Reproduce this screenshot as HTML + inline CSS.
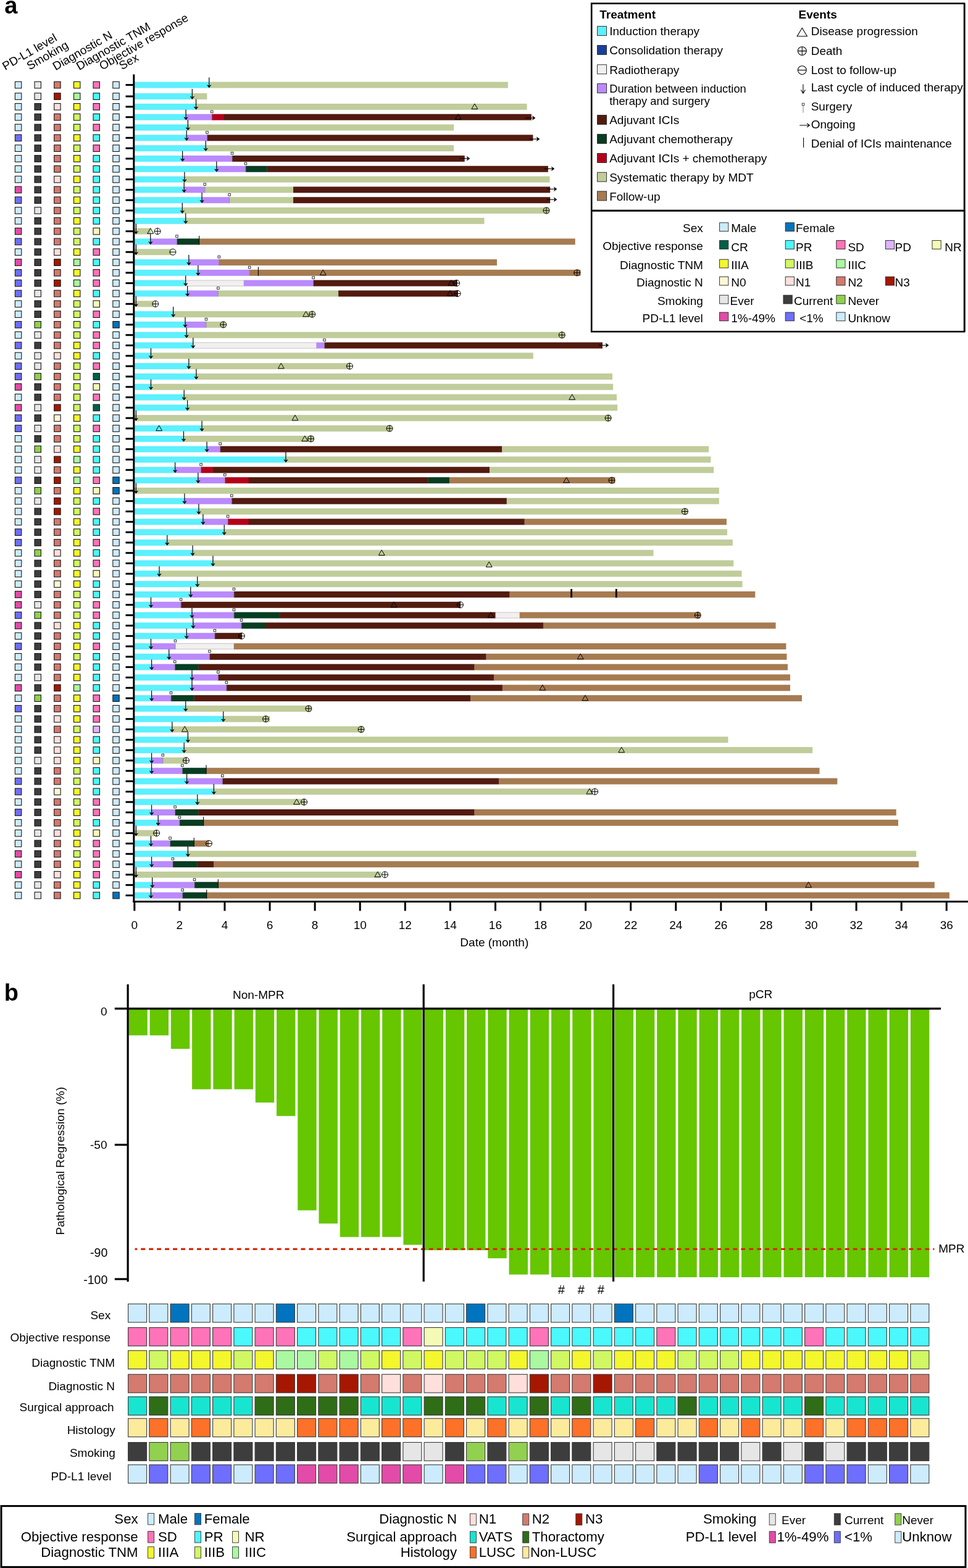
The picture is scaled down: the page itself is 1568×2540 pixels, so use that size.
<!DOCTYPE html>
<html><head><meta charset="utf-8"><title>Figure</title>
<style>
html,body{margin:0;padding:0;background:#fff;}
body{width:1568px;height:2540px;overflow:hidden;}
svg{display:block;}
text{fill:#000;}
</style></head>
<body>
<svg width="1568" height="2540" viewBox="0 0 1568 2540">
<rect width="1568" height="2540" fill="#fff"/>
<text x="7.3" y="21.8" font-size="38" font-weight="bold" font-family="'Liberation Sans', Arial, Helvetica, sans-serif">a</text>
<text transform="translate(8.5,114.2) rotate(-30)" font-size="19" font-family="'Liberation Sans', Arial, Helvetica, sans-serif">PD-L1 level</text>
<text transform="translate(48.1,113.7) rotate(-30)" font-size="19" font-family="'Liberation Sans', Arial, Helvetica, sans-serif">Smoking</text>
<text transform="translate(90.0,114.6) rotate(-30)" font-size="19" font-family="'Liberation Sans', Arial, Helvetica, sans-serif">Diagnostic N</text>
<text transform="translate(128.3,114.3) rotate(-30)" font-size="19" font-family="'Liberation Sans', Arial, Helvetica, sans-serif">Diagnostic TNM</text>
<text transform="translate(165.5,113.9) rotate(-30)" font-size="19" font-family="'Liberation Sans', Arial, Helvetica, sans-serif">Objective response</text>
<text transform="translate(197.5,113.4) rotate(-30)" font-size="19" font-family="'Liberation Sans', Arial, Helvetica, sans-serif">Sex</text>
<g stroke="#161616" stroke-width="1.1">
<rect x="24.4" y="132.3" width="10.4" height="10.6" fill="#CCEBFC"/>
<rect x="56" y="132.3" width="10.4" height="10.6" fill="#E6E6E6"/>
<rect x="87.7" y="132.3" width="10.4" height="10.6" fill="#D47A6E"/>
<rect x="119.5" y="132.3" width="10.4" height="10.6" fill="#F3F72B"/>
<rect x="151" y="132.3" width="10.4" height="10.6" fill="#FF73B9"/>
<rect x="182.8" y="132.3" width="10.4" height="10.6" fill="#CCEBFC"/>
<rect x="24.4" y="150.8" width="10.4" height="10.6" fill="#CCEBFC"/>
<rect x="56" y="150.8" width="10.4" height="10.6" fill="#E6E6E6"/>
<rect x="87.7" y="150.8" width="10.4" height="10.6" fill="#A51700"/>
<rect x="119.5" y="150.8" width="10.4" height="10.6" fill="#AAF9A0"/>
<rect x="151" y="150.8" width="10.4" height="10.6" fill="#4BF8FB"/>
<rect x="182.8" y="150.8" width="10.4" height="10.6" fill="#CCEBFC"/>
<rect x="24.4" y="167.61" width="10.4" height="10.6" fill="#CCEBFC"/>
<rect x="56" y="167.61" width="10.4" height="10.6" fill="#3D3D3D"/>
<rect x="87.7" y="167.61" width="10.4" height="10.6" fill="#FFDFDB"/>
<rect x="119.5" y="167.61" width="10.4" height="10.6" fill="#F3F72B"/>
<rect x="151" y="167.61" width="10.4" height="10.6" fill="#FF73B9"/>
<rect x="182.8" y="167.61" width="10.4" height="10.6" fill="#CCEBFC"/>
<rect x="24.4" y="184.42" width="10.4" height="10.6" fill="#CCEBFC"/>
<rect x="56" y="184.42" width="10.4" height="10.6" fill="#3D3D3D"/>
<rect x="87.7" y="184.42" width="10.4" height="10.6" fill="#D47A6E"/>
<rect x="119.5" y="184.42" width="10.4" height="10.6" fill="#D0F862"/>
<rect x="151" y="184.42" width="10.4" height="10.6" fill="#4BF8FB"/>
<rect x="182.8" y="184.42" width="10.4" height="10.6" fill="#CCEBFC"/>
<rect x="24.4" y="201.23" width="10.4" height="10.6" fill="#CCEBFC"/>
<rect x="56" y="201.23" width="10.4" height="10.6" fill="#3D3D3D"/>
<rect x="87.7" y="201.23" width="10.4" height="10.6" fill="#D47A6E"/>
<rect x="119.5" y="201.23" width="10.4" height="10.6" fill="#D0F862"/>
<rect x="151" y="201.23" width="10.4" height="10.6" fill="#FF73B9"/>
<rect x="182.8" y="201.23" width="10.4" height="10.6" fill="#CCEBFC"/>
<rect x="24.4" y="218.04" width="10.4" height="10.6" fill="#6E6EFF"/>
<rect x="56" y="218.04" width="10.4" height="10.6" fill="#3D3D3D"/>
<rect x="87.7" y="218.04" width="10.4" height="10.6" fill="#D47A6E"/>
<rect x="119.5" y="218.04" width="10.4" height="10.6" fill="#F3F72B"/>
<rect x="151" y="218.04" width="10.4" height="10.6" fill="#4BF8FB"/>
<rect x="182.8" y="218.04" width="10.4" height="10.6" fill="#CCEBFC"/>
<rect x="24.4" y="234.85" width="10.4" height="10.6" fill="#CCEBFC"/>
<rect x="56" y="234.85" width="10.4" height="10.6" fill="#3D3D3D"/>
<rect x="87.7" y="234.85" width="10.4" height="10.6" fill="#D47A6E"/>
<rect x="119.5" y="234.85" width="10.4" height="10.6" fill="#D0F862"/>
<rect x="151" y="234.85" width="10.4" height="10.6" fill="#FF73B9"/>
<rect x="182.8" y="234.85" width="10.4" height="10.6" fill="#CCEBFC"/>
<rect x="24.4" y="251.66" width="10.4" height="10.6" fill="#CCEBFC"/>
<rect x="56" y="251.66" width="10.4" height="10.6" fill="#3D3D3D"/>
<rect x="87.7" y="251.66" width="10.4" height="10.6" fill="#D47A6E"/>
<rect x="119.5" y="251.66" width="10.4" height="10.6" fill="#F3F72B"/>
<rect x="151" y="251.66" width="10.4" height="10.6" fill="#4BF8FB"/>
<rect x="182.8" y="251.66" width="10.4" height="10.6" fill="#CCEBFC"/>
<rect x="24.4" y="268.47" width="10.4" height="10.6" fill="#CCEBFC"/>
<rect x="56" y="268.47" width="10.4" height="10.6" fill="#3D3D3D"/>
<rect x="87.7" y="268.47" width="10.4" height="10.6" fill="#D47A6E"/>
<rect x="119.5" y="268.47" width="10.4" height="10.6" fill="#D0F862"/>
<rect x="151" y="268.47" width="10.4" height="10.6" fill="#4BF8FB"/>
<rect x="182.8" y="268.47" width="10.4" height="10.6" fill="#CCEBFC"/>
<rect x="24.4" y="285.28" width="10.4" height="10.6" fill="#CCEBFC"/>
<rect x="56" y="285.28" width="10.4" height="10.6" fill="#3D3D3D"/>
<rect x="87.7" y="285.28" width="10.4" height="10.6" fill="#FFDFDB"/>
<rect x="119.5" y="285.28" width="10.4" height="10.6" fill="#F3F72B"/>
<rect x="151" y="285.28" width="10.4" height="10.6" fill="#4BF8FB"/>
<rect x="182.8" y="285.28" width="10.4" height="10.6" fill="#CCEBFC"/>
<rect x="24.4" y="302.09" width="10.4" height="10.6" fill="#E24BA8"/>
<rect x="56" y="302.09" width="10.4" height="10.6" fill="#3D3D3D"/>
<rect x="87.7" y="302.09" width="10.4" height="10.6" fill="#D47A6E"/>
<rect x="119.5" y="302.09" width="10.4" height="10.6" fill="#D0F862"/>
<rect x="151" y="302.09" width="10.4" height="10.6" fill="#4BF8FB"/>
<rect x="182.8" y="302.09" width="10.4" height="10.6" fill="#CCEBFC"/>
<rect x="24.4" y="318.9" width="10.4" height="10.6" fill="#6E6EFF"/>
<rect x="56" y="318.9" width="10.4" height="10.6" fill="#3D3D3D"/>
<rect x="87.7" y="318.9" width="10.4" height="10.6" fill="#D47A6E"/>
<rect x="119.5" y="318.9" width="10.4" height="10.6" fill="#F3F72B"/>
<rect x="151" y="318.9" width="10.4" height="10.6" fill="#4BF8FB"/>
<rect x="182.8" y="318.9" width="10.4" height="10.6" fill="#CCEBFC"/>
<rect x="24.4" y="335.71" width="10.4" height="10.6" fill="#CCEBFC"/>
<rect x="56" y="335.71" width="10.4" height="10.6" fill="#E6E6E6"/>
<rect x="87.7" y="335.71" width="10.4" height="10.6" fill="#D47A6E"/>
<rect x="119.5" y="335.71" width="10.4" height="10.6" fill="#D0F862"/>
<rect x="151" y="335.71" width="10.4" height="10.6" fill="#4BF8FB"/>
<rect x="182.8" y="335.71" width="10.4" height="10.6" fill="#CCEBFC"/>
<rect x="24.4" y="352.52" width="10.4" height="10.6" fill="#CCEBFC"/>
<rect x="56" y="352.52" width="10.4" height="10.6" fill="#3D3D3D"/>
<rect x="87.7" y="352.52" width="10.4" height="10.6" fill="#D47A6E"/>
<rect x="119.5" y="352.52" width="10.4" height="10.6" fill="#F3F72B"/>
<rect x="151" y="352.52" width="10.4" height="10.6" fill="#4BF8FB"/>
<rect x="182.8" y="352.52" width="10.4" height="10.6" fill="#CCEBFC"/>
<rect x="24.4" y="369.33" width="10.4" height="10.6" fill="#E24BA8"/>
<rect x="56" y="369.33" width="10.4" height="10.6" fill="#3D3D3D"/>
<rect x="87.7" y="369.33" width="10.4" height="10.6" fill="#D47A6E"/>
<rect x="119.5" y="369.33" width="10.4" height="10.6" fill="#D0F862"/>
<rect x="151" y="369.33" width="10.4" height="10.6" fill="#F4FAB6"/>
<rect x="182.8" y="369.33" width="10.4" height="10.6" fill="#CCEBFC"/>
<rect x="24.4" y="386.14" width="10.4" height="10.6" fill="#6E6EFF"/>
<rect x="56" y="386.14" width="10.4" height="10.6" fill="#3D3D3D"/>
<rect x="87.7" y="386.14" width="10.4" height="10.6" fill="#D47A6E"/>
<rect x="119.5" y="386.14" width="10.4" height="10.6" fill="#D0F862"/>
<rect x="151" y="386.14" width="10.4" height="10.6" fill="#4BF8FB"/>
<rect x="182.8" y="386.14" width="10.4" height="10.6" fill="#CCEBFC"/>
<rect x="24.4" y="402.95" width="10.4" height="10.6" fill="#CCEBFC"/>
<rect x="56" y="402.95" width="10.4" height="10.6" fill="#3D3D3D"/>
<rect x="87.7" y="402.95" width="10.4" height="10.6" fill="#FFDFDB"/>
<rect x="119.5" y="402.95" width="10.4" height="10.6" fill="#F3F72B"/>
<rect x="151" y="402.95" width="10.4" height="10.6" fill="#FF73B9"/>
<rect x="182.8" y="402.95" width="10.4" height="10.6" fill="#CCEBFC"/>
<rect x="24.4" y="419.76" width="10.4" height="10.6" fill="#E24BA8"/>
<rect x="56" y="419.76" width="10.4" height="10.6" fill="#3D3D3D"/>
<rect x="87.7" y="419.76" width="10.4" height="10.6" fill="#A51700"/>
<rect x="119.5" y="419.76" width="10.4" height="10.6" fill="#AAF9A0"/>
<rect x="151" y="419.76" width="10.4" height="10.6" fill="#4BF8FB"/>
<rect x="182.8" y="419.76" width="10.4" height="10.6" fill="#CCEBFC"/>
<rect x="24.4" y="436.57" width="10.4" height="10.6" fill="#6E6EFF"/>
<rect x="56" y="436.57" width="10.4" height="10.6" fill="#3D3D3D"/>
<rect x="87.7" y="436.57" width="10.4" height="10.6" fill="#D47A6E"/>
<rect x="119.5" y="436.57" width="10.4" height="10.6" fill="#F3F72B"/>
<rect x="151" y="436.57" width="10.4" height="10.6" fill="#FF73B9"/>
<rect x="182.8" y="436.57" width="10.4" height="10.6" fill="#CCEBFC"/>
<rect x="24.4" y="453.38" width="10.4" height="10.6" fill="#6E6EFF"/>
<rect x="56" y="453.38" width="10.4" height="10.6" fill="#3D3D3D"/>
<rect x="87.7" y="453.38" width="10.4" height="10.6" fill="#A51700"/>
<rect x="119.5" y="453.38" width="10.4" height="10.6" fill="#AAF9A0"/>
<rect x="151" y="453.38" width="10.4" height="10.6" fill="#FF73B9"/>
<rect x="182.8" y="453.38" width="10.4" height="10.6" fill="#CCEBFC"/>
<rect x="24.4" y="470.19" width="10.4" height="10.6" fill="#6E6EFF"/>
<rect x="56" y="470.19" width="10.4" height="10.6" fill="#E6E6E6"/>
<rect x="87.7" y="470.19" width="10.4" height="10.6" fill="#D47A6E"/>
<rect x="119.5" y="470.19" width="10.4" height="10.6" fill="#F3F72B"/>
<rect x="151" y="470.19" width="10.4" height="10.6" fill="#4BF8FB"/>
<rect x="182.8" y="470.19" width="10.4" height="10.6" fill="#CCEBFC"/>
<rect x="24.4" y="487" width="10.4" height="10.6" fill="#CCEBFC"/>
<rect x="56" y="487" width="10.4" height="10.6" fill="#3D3D3D"/>
<rect x="87.7" y="487" width="10.4" height="10.6" fill="#D47A6E"/>
<rect x="119.5" y="487" width="10.4" height="10.6" fill="#D0F862"/>
<rect x="151" y="487" width="10.4" height="10.6" fill="#F4FAB6"/>
<rect x="182.8" y="487" width="10.4" height="10.6" fill="#CCEBFC"/>
<rect x="24.4" y="503.81" width="10.4" height="10.6" fill="#CCEBFC"/>
<rect x="56" y="503.81" width="10.4" height="10.6" fill="#3D3D3D"/>
<rect x="87.7" y="503.81" width="10.4" height="10.6" fill="#D47A6E"/>
<rect x="119.5" y="503.81" width="10.4" height="10.6" fill="#D0F862"/>
<rect x="151" y="503.81" width="10.4" height="10.6" fill="#FF73B9"/>
<rect x="182.8" y="503.81" width="10.4" height="10.6" fill="#CCEBFC"/>
<rect x="24.4" y="520.62" width="10.4" height="10.6" fill="#6E6EFF"/>
<rect x="56" y="520.62" width="10.4" height="10.6" fill="#92D050"/>
<rect x="87.7" y="520.62" width="10.4" height="10.6" fill="#D47A6E"/>
<rect x="119.5" y="520.62" width="10.4" height="10.6" fill="#D0F862"/>
<rect x="151" y="520.62" width="10.4" height="10.6" fill="#4BF8FB"/>
<rect x="182.8" y="520.62" width="10.4" height="10.6" fill="#0074BE"/>
<rect x="24.4" y="537.43" width="10.4" height="10.6" fill="#CCEBFC"/>
<rect x="56" y="537.43" width="10.4" height="10.6" fill="#E6E6E6"/>
<rect x="87.7" y="537.43" width="10.4" height="10.6" fill="#D47A6E"/>
<rect x="119.5" y="537.43" width="10.4" height="10.6" fill="#D0F862"/>
<rect x="151" y="537.43" width="10.4" height="10.6" fill="#FF73B9"/>
<rect x="182.8" y="537.43" width="10.4" height="10.6" fill="#CCEBFC"/>
<rect x="24.4" y="554.24" width="10.4" height="10.6" fill="#6E6EFF"/>
<rect x="56" y="554.24" width="10.4" height="10.6" fill="#3D3D3D"/>
<rect x="87.7" y="554.24" width="10.4" height="10.6" fill="#D47A6E"/>
<rect x="119.5" y="554.24" width="10.4" height="10.6" fill="#F3F72B"/>
<rect x="151" y="554.24" width="10.4" height="10.6" fill="#FF73B9"/>
<rect x="182.8" y="554.24" width="10.4" height="10.6" fill="#CCEBFC"/>
<rect x="24.4" y="571.05" width="10.4" height="10.6" fill="#CCEBFC"/>
<rect x="56" y="571.05" width="10.4" height="10.6" fill="#E6E6E6"/>
<rect x="87.7" y="571.05" width="10.4" height="10.6" fill="#FFDFDB"/>
<rect x="119.5" y="571.05" width="10.4" height="10.6" fill="#F3F72B"/>
<rect x="151" y="571.05" width="10.4" height="10.6" fill="#4BF8FB"/>
<rect x="182.8" y="571.05" width="10.4" height="10.6" fill="#CCEBFC"/>
<rect x="24.4" y="587.86" width="10.4" height="10.6" fill="#6E6EFF"/>
<rect x="56" y="587.86" width="10.4" height="10.6" fill="#E6E6E6"/>
<rect x="87.7" y="587.86" width="10.4" height="10.6" fill="#D47A6E"/>
<rect x="119.5" y="587.86" width="10.4" height="10.6" fill="#D0F862"/>
<rect x="151" y="587.86" width="10.4" height="10.6" fill="#FF73B9"/>
<rect x="182.8" y="587.86" width="10.4" height="10.6" fill="#CCEBFC"/>
<rect x="24.4" y="604.67" width="10.4" height="10.6" fill="#6E6EFF"/>
<rect x="56" y="604.67" width="10.4" height="10.6" fill="#92D050"/>
<rect x="87.7" y="604.67" width="10.4" height="10.6" fill="#D47A6E"/>
<rect x="119.5" y="604.67" width="10.4" height="10.6" fill="#D0F862"/>
<rect x="151" y="604.67" width="10.4" height="10.6" fill="#00604A"/>
<rect x="182.8" y="604.67" width="10.4" height="10.6" fill="#CCEBFC"/>
<rect x="24.4" y="621.48" width="10.4" height="10.6" fill="#E24BA8"/>
<rect x="56" y="621.48" width="10.4" height="10.6" fill="#3D3D3D"/>
<rect x="87.7" y="621.48" width="10.4" height="10.6" fill="#D47A6E"/>
<rect x="119.5" y="621.48" width="10.4" height="10.6" fill="#D0F862"/>
<rect x="151" y="621.48" width="10.4" height="10.6" fill="#F4FAB6"/>
<rect x="182.8" y="621.48" width="10.4" height="10.6" fill="#CCEBFC"/>
<rect x="24.4" y="638.29" width="10.4" height="10.6" fill="#CCEBFC"/>
<rect x="56" y="638.29" width="10.4" height="10.6" fill="#3D3D3D"/>
<rect x="87.7" y="638.29" width="10.4" height="10.6" fill="#D47A6E"/>
<rect x="119.5" y="638.29" width="10.4" height="10.6" fill="#D0F862"/>
<rect x="151" y="638.29" width="10.4" height="10.6" fill="#FF73B9"/>
<rect x="182.8" y="638.29" width="10.4" height="10.6" fill="#CCEBFC"/>
<rect x="24.4" y="655.1" width="10.4" height="10.6" fill="#E24BA8"/>
<rect x="56" y="655.1" width="10.4" height="10.6" fill="#E6E6E6"/>
<rect x="87.7" y="655.1" width="10.4" height="10.6" fill="#A51700"/>
<rect x="119.5" y="655.1" width="10.4" height="10.6" fill="#D0F862"/>
<rect x="151" y="655.1" width="10.4" height="10.6" fill="#00604A"/>
<rect x="182.8" y="655.1" width="10.4" height="10.6" fill="#CCEBFC"/>
<rect x="24.4" y="671.91" width="10.4" height="10.6" fill="#6E6EFF"/>
<rect x="56" y="671.91" width="10.4" height="10.6" fill="#3D3D3D"/>
<rect x="87.7" y="671.91" width="10.4" height="10.6" fill="#FFF8D6"/>
<rect x="119.5" y="671.91" width="10.4" height="10.6" fill="#F3F72B"/>
<rect x="151" y="671.91" width="10.4" height="10.6" fill="#4BF8FB"/>
<rect x="182.8" y="671.91" width="10.4" height="10.6" fill="#CCEBFC"/>
<rect x="24.4" y="688.72" width="10.4" height="10.6" fill="#6E6EFF"/>
<rect x="56" y="688.72" width="10.4" height="10.6" fill="#E6E6E6"/>
<rect x="87.7" y="688.72" width="10.4" height="10.6" fill="#D47A6E"/>
<rect x="119.5" y="688.72" width="10.4" height="10.6" fill="#D0F862"/>
<rect x="151" y="688.72" width="10.4" height="10.6" fill="#FF73B9"/>
<rect x="182.8" y="688.72" width="10.4" height="10.6" fill="#CCEBFC"/>
<rect x="24.4" y="705.53" width="10.4" height="10.6" fill="#CCEBFC"/>
<rect x="56" y="705.53" width="10.4" height="10.6" fill="#3D3D3D"/>
<rect x="87.7" y="705.53" width="10.4" height="10.6" fill="#D47A6E"/>
<rect x="119.5" y="705.53" width="10.4" height="10.6" fill="#D0F862"/>
<rect x="151" y="705.53" width="10.4" height="10.6" fill="#4BF8FB"/>
<rect x="182.8" y="705.53" width="10.4" height="10.6" fill="#CCEBFC"/>
<rect x="24.4" y="722.34" width="10.4" height="10.6" fill="#CCEBFC"/>
<rect x="56" y="722.34" width="10.4" height="10.6" fill="#92D050"/>
<rect x="87.7" y="722.34" width="10.4" height="10.6" fill="#FFDFDB"/>
<rect x="119.5" y="722.34" width="10.4" height="10.6" fill="#F3F72B"/>
<rect x="151" y="722.34" width="10.4" height="10.6" fill="#4BF8FB"/>
<rect x="182.8" y="722.34" width="10.4" height="10.6" fill="#CCEBFC"/>
<rect x="24.4" y="739.15" width="10.4" height="10.6" fill="#CCEBFC"/>
<rect x="56" y="739.15" width="10.4" height="10.6" fill="#E6E6E6"/>
<rect x="87.7" y="739.15" width="10.4" height="10.6" fill="#A51700"/>
<rect x="119.5" y="739.15" width="10.4" height="10.6" fill="#AAF9A0"/>
<rect x="151" y="739.15" width="10.4" height="10.6" fill="#4BF8FB"/>
<rect x="182.8" y="739.15" width="10.4" height="10.6" fill="#CCEBFC"/>
<rect x="24.4" y="755.96" width="10.4" height="10.6" fill="#CCEBFC"/>
<rect x="56" y="755.96" width="10.4" height="10.6" fill="#E6E6E6"/>
<rect x="87.7" y="755.96" width="10.4" height="10.6" fill="#D47A6E"/>
<rect x="119.5" y="755.96" width="10.4" height="10.6" fill="#F3F72B"/>
<rect x="151" y="755.96" width="10.4" height="10.6" fill="#4BF8FB"/>
<rect x="182.8" y="755.96" width="10.4" height="10.6" fill="#CCEBFC"/>
<rect x="24.4" y="772.77" width="10.4" height="10.6" fill="#6E6EFF"/>
<rect x="56" y="772.77" width="10.4" height="10.6" fill="#3D3D3D"/>
<rect x="87.7" y="772.77" width="10.4" height="10.6" fill="#A51700"/>
<rect x="119.5" y="772.77" width="10.4" height="10.6" fill="#AAF9A0"/>
<rect x="151" y="772.77" width="10.4" height="10.6" fill="#FF73B9"/>
<rect x="182.8" y="772.77" width="10.4" height="10.6" fill="#0074BE"/>
<rect x="24.4" y="789.58" width="10.4" height="10.6" fill="#CCEBFC"/>
<rect x="56" y="789.58" width="10.4" height="10.6" fill="#92D050"/>
<rect x="87.7" y="789.58" width="10.4" height="10.6" fill="#D47A6E"/>
<rect x="119.5" y="789.58" width="10.4" height="10.6" fill="#F3F72B"/>
<rect x="151" y="789.58" width="10.4" height="10.6" fill="#F4FAB6"/>
<rect x="182.8" y="789.58" width="10.4" height="10.6" fill="#0074BE"/>
<rect x="24.4" y="806.39" width="10.4" height="10.6" fill="#CCEBFC"/>
<rect x="56" y="806.39" width="10.4" height="10.6" fill="#E6E6E6"/>
<rect x="87.7" y="806.39" width="10.4" height="10.6" fill="#A51700"/>
<rect x="119.5" y="806.39" width="10.4" height="10.6" fill="#D0F862"/>
<rect x="151" y="806.39" width="10.4" height="10.6" fill="#4BF8FB"/>
<rect x="182.8" y="806.39" width="10.4" height="10.6" fill="#CCEBFC"/>
<rect x="24.4" y="823.2" width="10.4" height="10.6" fill="#CCEBFC"/>
<rect x="56" y="823.2" width="10.4" height="10.6" fill="#3D3D3D"/>
<rect x="87.7" y="823.2" width="10.4" height="10.6" fill="#A51700"/>
<rect x="119.5" y="823.2" width="10.4" height="10.6" fill="#D0F862"/>
<rect x="151" y="823.2" width="10.4" height="10.6" fill="#FF73B9"/>
<rect x="182.8" y="823.2" width="10.4" height="10.6" fill="#CCEBFC"/>
<rect x="24.4" y="840.01" width="10.4" height="10.6" fill="#CCEBFC"/>
<rect x="56" y="840.01" width="10.4" height="10.6" fill="#3D3D3D"/>
<rect x="87.7" y="840.01" width="10.4" height="10.6" fill="#D47A6E"/>
<rect x="119.5" y="840.01" width="10.4" height="10.6" fill="#F3F72B"/>
<rect x="151" y="840.01" width="10.4" height="10.6" fill="#4BF8FB"/>
<rect x="182.8" y="840.01" width="10.4" height="10.6" fill="#CCEBFC"/>
<rect x="24.4" y="856.82" width="10.4" height="10.6" fill="#6E6EFF"/>
<rect x="56" y="856.82" width="10.4" height="10.6" fill="#3D3D3D"/>
<rect x="87.7" y="856.82" width="10.4" height="10.6" fill="#D47A6E"/>
<rect x="119.5" y="856.82" width="10.4" height="10.6" fill="#D0F862"/>
<rect x="151" y="856.82" width="10.4" height="10.6" fill="#4BF8FB"/>
<rect x="182.8" y="856.82" width="10.4" height="10.6" fill="#CCEBFC"/>
<rect x="24.4" y="873.63" width="10.4" height="10.6" fill="#6E6EFF"/>
<rect x="56" y="873.63" width="10.4" height="10.6" fill="#3D3D3D"/>
<rect x="87.7" y="873.63" width="10.4" height="10.6" fill="#D47A6E"/>
<rect x="119.5" y="873.63" width="10.4" height="10.6" fill="#F3F72B"/>
<rect x="151" y="873.63" width="10.4" height="10.6" fill="#FF73B9"/>
<rect x="182.8" y="873.63" width="10.4" height="10.6" fill="#CCEBFC"/>
<rect x="24.4" y="890.44" width="10.4" height="10.6" fill="#CCEBFC"/>
<rect x="56" y="890.44" width="10.4" height="10.6" fill="#92D050"/>
<rect x="87.7" y="890.44" width="10.4" height="10.6" fill="#FFDFDB"/>
<rect x="119.5" y="890.44" width="10.4" height="10.6" fill="#F3F72B"/>
<rect x="151" y="890.44" width="10.4" height="10.6" fill="#4BF8FB"/>
<rect x="182.8" y="890.44" width="10.4" height="10.6" fill="#CCEBFC"/>
<rect x="24.4" y="907.25" width="10.4" height="10.6" fill="#CCEBFC"/>
<rect x="56" y="907.25" width="10.4" height="10.6" fill="#3D3D3D"/>
<rect x="87.7" y="907.25" width="10.4" height="10.6" fill="#D47A6E"/>
<rect x="119.5" y="907.25" width="10.4" height="10.6" fill="#D0F862"/>
<rect x="151" y="907.25" width="10.4" height="10.6" fill="#FF73B9"/>
<rect x="182.8" y="907.25" width="10.4" height="10.6" fill="#CCEBFC"/>
<rect x="24.4" y="924.06" width="10.4" height="10.6" fill="#CCEBFC"/>
<rect x="56" y="924.06" width="10.4" height="10.6" fill="#3D3D3D"/>
<rect x="87.7" y="924.06" width="10.4" height="10.6" fill="#D47A6E"/>
<rect x="119.5" y="924.06" width="10.4" height="10.6" fill="#F3F72B"/>
<rect x="151" y="924.06" width="10.4" height="10.6" fill="#F4FAB6"/>
<rect x="182.8" y="924.06" width="10.4" height="10.6" fill="#CCEBFC"/>
<rect x="24.4" y="940.87" width="10.4" height="10.6" fill="#CCEBFC"/>
<rect x="56" y="940.87" width="10.4" height="10.6" fill="#3D3D3D"/>
<rect x="87.7" y="940.87" width="10.4" height="10.6" fill="#FFF8D6"/>
<rect x="119.5" y="940.87" width="10.4" height="10.6" fill="#F3F72B"/>
<rect x="151" y="940.87" width="10.4" height="10.6" fill="#4BF8FB"/>
<rect x="182.8" y="940.87" width="10.4" height="10.6" fill="#CCEBFC"/>
<rect x="24.4" y="957.68" width="10.4" height="10.6" fill="#E24BA8"/>
<rect x="56" y="957.68" width="10.4" height="10.6" fill="#3D3D3D"/>
<rect x="87.7" y="957.68" width="10.4" height="10.6" fill="#D47A6E"/>
<rect x="119.5" y="957.68" width="10.4" height="10.6" fill="#D0F862"/>
<rect x="151" y="957.68" width="10.4" height="10.6" fill="#4BF8FB"/>
<rect x="182.8" y="957.68" width="10.4" height="10.6" fill="#CCEBFC"/>
<rect x="24.4" y="974.49" width="10.4" height="10.6" fill="#E24BA8"/>
<rect x="56" y="974.49" width="10.4" height="10.6" fill="#E6E6E6"/>
<rect x="87.7" y="974.49" width="10.4" height="10.6" fill="#D47A6E"/>
<rect x="119.5" y="974.49" width="10.4" height="10.6" fill="#D0F862"/>
<rect x="151" y="974.49" width="10.4" height="10.6" fill="#FF73B9"/>
<rect x="182.8" y="974.49" width="10.4" height="10.6" fill="#CCEBFC"/>
<rect x="24.4" y="991.3" width="10.4" height="10.6" fill="#6E6EFF"/>
<rect x="56" y="991.3" width="10.4" height="10.6" fill="#92D050"/>
<rect x="87.7" y="991.3" width="10.4" height="10.6" fill="#D47A6E"/>
<rect x="119.5" y="991.3" width="10.4" height="10.6" fill="#D0F862"/>
<rect x="151" y="991.3" width="10.4" height="10.6" fill="#FF73B9"/>
<rect x="182.8" y="991.3" width="10.4" height="10.6" fill="#CCEBFC"/>
<rect x="24.4" y="1008.11" width="10.4" height="10.6" fill="#E24BA8"/>
<rect x="56" y="1008.11" width="10.4" height="10.6" fill="#3D3D3D"/>
<rect x="87.7" y="1008.11" width="10.4" height="10.6" fill="#FFDFDB"/>
<rect x="119.5" y="1008.11" width="10.4" height="10.6" fill="#F3F72B"/>
<rect x="151" y="1008.11" width="10.4" height="10.6" fill="#4BF8FB"/>
<rect x="182.8" y="1008.11" width="10.4" height="10.6" fill="#CCEBFC"/>
<rect x="24.4" y="1024.92" width="10.4" height="10.6" fill="#CCEBFC"/>
<rect x="56" y="1024.92" width="10.4" height="10.6" fill="#3D3D3D"/>
<rect x="87.7" y="1024.92" width="10.4" height="10.6" fill="#D47A6E"/>
<rect x="119.5" y="1024.92" width="10.4" height="10.6" fill="#D0F862"/>
<rect x="151" y="1024.92" width="10.4" height="10.6" fill="#4BF8FB"/>
<rect x="182.8" y="1024.92" width="10.4" height="10.6" fill="#CCEBFC"/>
<rect x="24.4" y="1041.73" width="10.4" height="10.6" fill="#6E6EFF"/>
<rect x="56" y="1041.73" width="10.4" height="10.6" fill="#3D3D3D"/>
<rect x="87.7" y="1041.73" width="10.4" height="10.6" fill="#D47A6E"/>
<rect x="119.5" y="1041.73" width="10.4" height="10.6" fill="#F3F72B"/>
<rect x="151" y="1041.73" width="10.4" height="10.6" fill="#FF73B9"/>
<rect x="182.8" y="1041.73" width="10.4" height="10.6" fill="#CCEBFC"/>
<rect x="24.4" y="1058.54" width="10.4" height="10.6" fill="#CCEBFC"/>
<rect x="56" y="1058.54" width="10.4" height="10.6" fill="#3D3D3D"/>
<rect x="87.7" y="1058.54" width="10.4" height="10.6" fill="#D47A6E"/>
<rect x="119.5" y="1058.54" width="10.4" height="10.6" fill="#D0F862"/>
<rect x="151" y="1058.54" width="10.4" height="10.6" fill="#4BF8FB"/>
<rect x="182.8" y="1058.54" width="10.4" height="10.6" fill="#CCEBFC"/>
<rect x="24.4" y="1075.35" width="10.4" height="10.6" fill="#CCEBFC"/>
<rect x="56" y="1075.35" width="10.4" height="10.6" fill="#3D3D3D"/>
<rect x="87.7" y="1075.35" width="10.4" height="10.6" fill="#D47A6E"/>
<rect x="119.5" y="1075.35" width="10.4" height="10.6" fill="#F3F72B"/>
<rect x="151" y="1075.35" width="10.4" height="10.6" fill="#4BF8FB"/>
<rect x="182.8" y="1075.35" width="10.4" height="10.6" fill="#CCEBFC"/>
<rect x="24.4" y="1092.16" width="10.4" height="10.6" fill="#CCEBFC"/>
<rect x="56" y="1092.16" width="10.4" height="10.6" fill="#E6E6E6"/>
<rect x="87.7" y="1092.16" width="10.4" height="10.6" fill="#D47A6E"/>
<rect x="119.5" y="1092.16" width="10.4" height="10.6" fill="#F3F72B"/>
<rect x="151" y="1092.16" width="10.4" height="10.6" fill="#4BF8FB"/>
<rect x="182.8" y="1092.16" width="10.4" height="10.6" fill="#CCEBFC"/>
<rect x="24.4" y="1108.97" width="10.4" height="10.6" fill="#E24BA8"/>
<rect x="56" y="1108.97" width="10.4" height="10.6" fill="#3D3D3D"/>
<rect x="87.7" y="1108.97" width="10.4" height="10.6" fill="#A51700"/>
<rect x="119.5" y="1108.97" width="10.4" height="10.6" fill="#AAF9A0"/>
<rect x="151" y="1108.97" width="10.4" height="10.6" fill="#4BF8FB"/>
<rect x="182.8" y="1108.97" width="10.4" height="10.6" fill="#CCEBFC"/>
<rect x="24.4" y="1125.78" width="10.4" height="10.6" fill="#CCEBFC"/>
<rect x="56" y="1125.78" width="10.4" height="10.6" fill="#92D050"/>
<rect x="87.7" y="1125.78" width="10.4" height="10.6" fill="#D47A6E"/>
<rect x="119.5" y="1125.78" width="10.4" height="10.6" fill="#F3F72B"/>
<rect x="151" y="1125.78" width="10.4" height="10.6" fill="#FF73B9"/>
<rect x="182.8" y="1125.78" width="10.4" height="10.6" fill="#0074BE"/>
<rect x="24.4" y="1142.59" width="10.4" height="10.6" fill="#6E6EFF"/>
<rect x="56" y="1142.59" width="10.4" height="10.6" fill="#3D3D3D"/>
<rect x="87.7" y="1142.59" width="10.4" height="10.6" fill="#D47A6E"/>
<rect x="119.5" y="1142.59" width="10.4" height="10.6" fill="#F3F72B"/>
<rect x="151" y="1142.59" width="10.4" height="10.6" fill="#FF73B9"/>
<rect x="182.8" y="1142.59" width="10.4" height="10.6" fill="#CCEBFC"/>
<rect x="24.4" y="1159.4" width="10.4" height="10.6" fill="#CCEBFC"/>
<rect x="56" y="1159.4" width="10.4" height="10.6" fill="#3D3D3D"/>
<rect x="87.7" y="1159.4" width="10.4" height="10.6" fill="#FFDFDB"/>
<rect x="119.5" y="1159.4" width="10.4" height="10.6" fill="#F3F72B"/>
<rect x="151" y="1159.4" width="10.4" height="10.6" fill="#FF73B9"/>
<rect x="182.8" y="1159.4" width="10.4" height="10.6" fill="#CCEBFC"/>
<rect x="24.4" y="1176.21" width="10.4" height="10.6" fill="#CCEBFC"/>
<rect x="56" y="1176.21" width="10.4" height="10.6" fill="#3D3D3D"/>
<rect x="87.7" y="1176.21" width="10.4" height="10.6" fill="#D47A6E"/>
<rect x="119.5" y="1176.21" width="10.4" height="10.6" fill="#D0F862"/>
<rect x="151" y="1176.21" width="10.4" height="10.6" fill="#DDB3FC"/>
<rect x="182.8" y="1176.21" width="10.4" height="10.6" fill="#CCEBFC"/>
<rect x="24.4" y="1193.02" width="10.4" height="10.6" fill="#CCEBFC"/>
<rect x="56" y="1193.02" width="10.4" height="10.6" fill="#3D3D3D"/>
<rect x="87.7" y="1193.02" width="10.4" height="10.6" fill="#FFDFDB"/>
<rect x="119.5" y="1193.02" width="10.4" height="10.6" fill="#F3F72B"/>
<rect x="151" y="1193.02" width="10.4" height="10.6" fill="#4BF8FB"/>
<rect x="182.8" y="1193.02" width="10.4" height="10.6" fill="#CCEBFC"/>
<rect x="24.4" y="1209.83" width="10.4" height="10.6" fill="#CCEBFC"/>
<rect x="56" y="1209.83" width="10.4" height="10.6" fill="#3D3D3D"/>
<rect x="87.7" y="1209.83" width="10.4" height="10.6" fill="#FFDFDB"/>
<rect x="119.5" y="1209.83" width="10.4" height="10.6" fill="#F3F72B"/>
<rect x="151" y="1209.83" width="10.4" height="10.6" fill="#4BF8FB"/>
<rect x="182.8" y="1209.83" width="10.4" height="10.6" fill="#CCEBFC"/>
<rect x="24.4" y="1226.64" width="10.4" height="10.6" fill="#CCEBFC"/>
<rect x="56" y="1226.64" width="10.4" height="10.6" fill="#E6E6E6"/>
<rect x="87.7" y="1226.64" width="10.4" height="10.6" fill="#FFDFDB"/>
<rect x="119.5" y="1226.64" width="10.4" height="10.6" fill="#F3F72B"/>
<rect x="151" y="1226.64" width="10.4" height="10.6" fill="#F4FAB6"/>
<rect x="182.8" y="1226.64" width="10.4" height="10.6" fill="#CCEBFC"/>
<rect x="24.4" y="1243.45" width="10.4" height="10.6" fill="#CCEBFC"/>
<rect x="56" y="1243.45" width="10.4" height="10.6" fill="#3D3D3D"/>
<rect x="87.7" y="1243.45" width="10.4" height="10.6" fill="#D47A6E"/>
<rect x="119.5" y="1243.45" width="10.4" height="10.6" fill="#D0F862"/>
<rect x="151" y="1243.45" width="10.4" height="10.6" fill="#4BF8FB"/>
<rect x="182.8" y="1243.45" width="10.4" height="10.6" fill="#CCEBFC"/>
<rect x="24.4" y="1260.26" width="10.4" height="10.6" fill="#6E6EFF"/>
<rect x="56" y="1260.26" width="10.4" height="10.6" fill="#3D3D3D"/>
<rect x="87.7" y="1260.26" width="10.4" height="10.6" fill="#D47A6E"/>
<rect x="119.5" y="1260.26" width="10.4" height="10.6" fill="#D0F862"/>
<rect x="151" y="1260.26" width="10.4" height="10.6" fill="#4BF8FB"/>
<rect x="182.8" y="1260.26" width="10.4" height="10.6" fill="#CCEBFC"/>
<rect x="24.4" y="1277.07" width="10.4" height="10.6" fill="#6E6EFF"/>
<rect x="56" y="1277.07" width="10.4" height="10.6" fill="#3D3D3D"/>
<rect x="87.7" y="1277.07" width="10.4" height="10.6" fill="#FFF8D6"/>
<rect x="119.5" y="1277.07" width="10.4" height="10.6" fill="#F3F72B"/>
<rect x="151" y="1277.07" width="10.4" height="10.6" fill="#4BF8FB"/>
<rect x="182.8" y="1277.07" width="10.4" height="10.6" fill="#CCEBFC"/>
<rect x="24.4" y="1293.88" width="10.4" height="10.6" fill="#CCEBFC"/>
<rect x="56" y="1293.88" width="10.4" height="10.6" fill="#3D3D3D"/>
<rect x="87.7" y="1293.88" width="10.4" height="10.6" fill="#D47A6E"/>
<rect x="119.5" y="1293.88" width="10.4" height="10.6" fill="#D0F862"/>
<rect x="151" y="1293.88" width="10.4" height="10.6" fill="#FF73B9"/>
<rect x="182.8" y="1293.88" width="10.4" height="10.6" fill="#CCEBFC"/>
<rect x="24.4" y="1310.69" width="10.4" height="10.6" fill="#6E6EFF"/>
<rect x="56" y="1310.69" width="10.4" height="10.6" fill="#3D3D3D"/>
<rect x="87.7" y="1310.69" width="10.4" height="10.6" fill="#D47A6E"/>
<rect x="119.5" y="1310.69" width="10.4" height="10.6" fill="#F3F72B"/>
<rect x="151" y="1310.69" width="10.4" height="10.6" fill="#FF73B9"/>
<rect x="182.8" y="1310.69" width="10.4" height="10.6" fill="#CCEBFC"/>
<rect x="24.4" y="1327.5" width="10.4" height="10.6" fill="#CCEBFC"/>
<rect x="56" y="1327.5" width="10.4" height="10.6" fill="#3D3D3D"/>
<rect x="87.7" y="1327.5" width="10.4" height="10.6" fill="#D47A6E"/>
<rect x="119.5" y="1327.5" width="10.4" height="10.6" fill="#D0F862"/>
<rect x="151" y="1327.5" width="10.4" height="10.6" fill="#4BF8FB"/>
<rect x="182.8" y="1327.5" width="10.4" height="10.6" fill="#CCEBFC"/>
<rect x="24.4" y="1344.31" width="10.4" height="10.6" fill="#CCEBFC"/>
<rect x="56" y="1344.31" width="10.4" height="10.6" fill="#E6E6E6"/>
<rect x="87.7" y="1344.31" width="10.4" height="10.6" fill="#FFDFDB"/>
<rect x="119.5" y="1344.31" width="10.4" height="10.6" fill="#F3F72B"/>
<rect x="151" y="1344.31" width="10.4" height="10.6" fill="#F4FAB6"/>
<rect x="182.8" y="1344.31" width="10.4" height="10.6" fill="#CCEBFC"/>
<rect x="24.4" y="1361.12" width="10.4" height="10.6" fill="#CCEBFC"/>
<rect x="56" y="1361.12" width="10.4" height="10.6" fill="#3D3D3D"/>
<rect x="87.7" y="1361.12" width="10.4" height="10.6" fill="#D47A6E"/>
<rect x="119.5" y="1361.12" width="10.4" height="10.6" fill="#F3F72B"/>
<rect x="151" y="1361.12" width="10.4" height="10.6" fill="#FF73B9"/>
<rect x="182.8" y="1361.12" width="10.4" height="10.6" fill="#CCEBFC"/>
<rect x="24.4" y="1377.93" width="10.4" height="10.6" fill="#E24BA8"/>
<rect x="56" y="1377.93" width="10.4" height="10.6" fill="#3D3D3D"/>
<rect x="87.7" y="1377.93" width="10.4" height="10.6" fill="#D47A6E"/>
<rect x="119.5" y="1377.93" width="10.4" height="10.6" fill="#D0F862"/>
<rect x="151" y="1377.93" width="10.4" height="10.6" fill="#FF73B9"/>
<rect x="182.8" y="1377.93" width="10.4" height="10.6" fill="#CCEBFC"/>
<rect x="24.4" y="1394.74" width="10.4" height="10.6" fill="#CCEBFC"/>
<rect x="56" y="1394.74" width="10.4" height="10.6" fill="#3D3D3D"/>
<rect x="87.7" y="1394.74" width="10.4" height="10.6" fill="#D47A6E"/>
<rect x="119.5" y="1394.74" width="10.4" height="10.6" fill="#F3F72B"/>
<rect x="151" y="1394.74" width="10.4" height="10.6" fill="#FF73B9"/>
<rect x="182.8" y="1394.74" width="10.4" height="10.6" fill="#CCEBFC"/>
<rect x="24.4" y="1411.55" width="10.4" height="10.6" fill="#E24BA8"/>
<rect x="56" y="1411.55" width="10.4" height="10.6" fill="#3D3D3D"/>
<rect x="87.7" y="1411.55" width="10.4" height="10.6" fill="#FFDFDB"/>
<rect x="119.5" y="1411.55" width="10.4" height="10.6" fill="#F3F72B"/>
<rect x="151" y="1411.55" width="10.4" height="10.6" fill="#FF73B9"/>
<rect x="182.8" y="1411.55" width="10.4" height="10.6" fill="#CCEBFC"/>
<rect x="24.4" y="1428.36" width="10.4" height="10.6" fill="#CCEBFC"/>
<rect x="56" y="1428.36" width="10.4" height="10.6" fill="#E6E6E6"/>
<rect x="87.7" y="1428.36" width="10.4" height="10.6" fill="#D47A6E"/>
<rect x="119.5" y="1428.36" width="10.4" height="10.6" fill="#F3F72B"/>
<rect x="151" y="1428.36" width="10.4" height="10.6" fill="#4BF8FB"/>
<rect x="182.8" y="1428.36" width="10.4" height="10.6" fill="#CCEBFC"/>
<rect x="24.4" y="1445.17" width="10.4" height="10.6" fill="#CCEBFC"/>
<rect x="56" y="1445.17" width="10.4" height="10.6" fill="#E6E6E6"/>
<rect x="87.7" y="1445.17" width="10.4" height="10.6" fill="#D47A6E"/>
<rect x="119.5" y="1445.17" width="10.4" height="10.6" fill="#F3F72B"/>
<rect x="151" y="1445.17" width="10.4" height="10.6" fill="#4BF8FB"/>
<rect x="182.8" y="1445.17" width="10.4" height="10.6" fill="#0074BE"/>
</g>
<g stroke="#000" stroke-width="3">
<line x1="203.5" y1="137.6" x2="216" y2="137.6"/>
<line x1="203.5" y1="156.1" x2="216" y2="156.1"/>
<line x1="203.5" y1="172.91" x2="216" y2="172.91"/>
<line x1="203.5" y1="189.72" x2="216" y2="189.72"/>
<line x1="203.5" y1="206.53" x2="216" y2="206.53"/>
<line x1="203.5" y1="223.34" x2="216" y2="223.34"/>
<line x1="203.5" y1="240.15" x2="216" y2="240.15"/>
<line x1="203.5" y1="256.96" x2="216" y2="256.96"/>
<line x1="203.5" y1="273.77" x2="216" y2="273.77"/>
<line x1="203.5" y1="290.58" x2="216" y2="290.58"/>
<line x1="203.5" y1="307.39" x2="216" y2="307.39"/>
<line x1="203.5" y1="324.2" x2="216" y2="324.2"/>
<line x1="203.5" y1="341.01" x2="216" y2="341.01"/>
<line x1="203.5" y1="357.82" x2="216" y2="357.82"/>
<line x1="203.5" y1="374.63" x2="216" y2="374.63"/>
<line x1="203.5" y1="391.44" x2="216" y2="391.44"/>
<line x1="203.5" y1="408.25" x2="216" y2="408.25"/>
<line x1="203.5" y1="425.06" x2="216" y2="425.06"/>
<line x1="203.5" y1="441.87" x2="216" y2="441.87"/>
<line x1="203.5" y1="458.68" x2="216" y2="458.68"/>
<line x1="203.5" y1="475.49" x2="216" y2="475.49"/>
<line x1="203.5" y1="492.3" x2="216" y2="492.3"/>
<line x1="203.5" y1="509.11" x2="216" y2="509.11"/>
<line x1="203.5" y1="525.92" x2="216" y2="525.92"/>
<line x1="203.5" y1="542.73" x2="216" y2="542.73"/>
<line x1="203.5" y1="559.54" x2="216" y2="559.54"/>
<line x1="203.5" y1="576.35" x2="216" y2="576.35"/>
<line x1="203.5" y1="593.16" x2="216" y2="593.16"/>
<line x1="203.5" y1="609.97" x2="216" y2="609.97"/>
<line x1="203.5" y1="626.78" x2="216" y2="626.78"/>
<line x1="203.5" y1="643.59" x2="216" y2="643.59"/>
<line x1="203.5" y1="660.4" x2="216" y2="660.4"/>
<line x1="203.5" y1="677.21" x2="216" y2="677.21"/>
<line x1="203.5" y1="694.02" x2="216" y2="694.02"/>
<line x1="203.5" y1="710.83" x2="216" y2="710.83"/>
<line x1="203.5" y1="727.64" x2="216" y2="727.64"/>
<line x1="203.5" y1="744.45" x2="216" y2="744.45"/>
<line x1="203.5" y1="761.26" x2="216" y2="761.26"/>
<line x1="203.5" y1="778.07" x2="216" y2="778.07"/>
<line x1="203.5" y1="794.88" x2="216" y2="794.88"/>
<line x1="203.5" y1="811.69" x2="216" y2="811.69"/>
<line x1="203.5" y1="828.5" x2="216" y2="828.5"/>
<line x1="203.5" y1="845.31" x2="216" y2="845.31"/>
<line x1="203.5" y1="862.12" x2="216" y2="862.12"/>
<line x1="203.5" y1="878.93" x2="216" y2="878.93"/>
<line x1="203.5" y1="895.74" x2="216" y2="895.74"/>
<line x1="203.5" y1="912.55" x2="216" y2="912.55"/>
<line x1="203.5" y1="929.36" x2="216" y2="929.36"/>
<line x1="203.5" y1="946.17" x2="216" y2="946.17"/>
<line x1="203.5" y1="962.98" x2="216" y2="962.98"/>
<line x1="203.5" y1="979.79" x2="216" y2="979.79"/>
<line x1="203.5" y1="996.6" x2="216" y2="996.6"/>
<line x1="203.5" y1="1013.41" x2="216" y2="1013.41"/>
<line x1="203.5" y1="1030.22" x2="216" y2="1030.22"/>
<line x1="203.5" y1="1047.03" x2="216" y2="1047.03"/>
<line x1="203.5" y1="1063.84" x2="216" y2="1063.84"/>
<line x1="203.5" y1="1080.65" x2="216" y2="1080.65"/>
<line x1="203.5" y1="1097.46" x2="216" y2="1097.46"/>
<line x1="203.5" y1="1114.27" x2="216" y2="1114.27"/>
<line x1="203.5" y1="1131.08" x2="216" y2="1131.08"/>
<line x1="203.5" y1="1147.89" x2="216" y2="1147.89"/>
<line x1="203.5" y1="1164.7" x2="216" y2="1164.7"/>
<line x1="203.5" y1="1181.51" x2="216" y2="1181.51"/>
<line x1="203.5" y1="1198.32" x2="216" y2="1198.32"/>
<line x1="203.5" y1="1215.13" x2="216" y2="1215.13"/>
<line x1="203.5" y1="1231.94" x2="216" y2="1231.94"/>
<line x1="203.5" y1="1248.75" x2="216" y2="1248.75"/>
<line x1="203.5" y1="1265.56" x2="216" y2="1265.56"/>
<line x1="203.5" y1="1282.37" x2="216" y2="1282.37"/>
<line x1="203.5" y1="1299.18" x2="216" y2="1299.18"/>
<line x1="203.5" y1="1315.99" x2="216" y2="1315.99"/>
<line x1="203.5" y1="1332.8" x2="216" y2="1332.8"/>
<line x1="203.5" y1="1349.61" x2="216" y2="1349.61"/>
<line x1="203.5" y1="1366.42" x2="216" y2="1366.42"/>
<line x1="203.5" y1="1383.23" x2="216" y2="1383.23"/>
<line x1="203.5" y1="1400.04" x2="216" y2="1400.04"/>
<line x1="203.5" y1="1416.85" x2="216" y2="1416.85"/>
<line x1="203.5" y1="1433.66" x2="216" y2="1433.66"/>
<line x1="203.5" y1="1450.47" x2="216" y2="1450.47"/>
</g>
<g>
<rect x="217.8" y="132.6" width="122.71" height="10" fill="#5DF0FD"/>
<rect x="340.21" y="132.6" width="482.63" height="10" fill="#C0CC9A"/>
<rect x="217.8" y="151.1" width="94.57" height="10" fill="#5DF0FD"/>
<rect x="312.07" y="151.1" width="23.32" height="10" fill="#C0CC9A"/>
<rect x="217.8" y="167.91" width="100.05" height="10" fill="#5DF0FD"/>
<rect x="317.55" y="167.91" width="535.98" height="10" fill="#C0CC9A"/>
<rect x="217.8" y="184.72" width="83.61" height="10" fill="#5DF0FD"/>
<rect x="301.11" y="184.72" width="42.32" height="10" fill="#BA8AFB"/>
<rect x="343.13" y="184.72" width="20.03" height="10" fill="#B3001B"/>
<rect x="362.86" y="184.72" width="497.97" height="10" fill="#531B10"/>
<rect x="217.8" y="201.53" width="86.9" height="10" fill="#5DF0FD"/>
<rect x="304.4" y="201.53" width="430.74" height="10" fill="#C0CC9A"/>
<rect x="217.8" y="218.34" width="84.71" height="10" fill="#5DF0FD"/>
<rect x="302.21" y="218.34" width="33.55" height="10" fill="#BA8AFB"/>
<rect x="335.46" y="218.34" width="527.94" height="10" fill="#531B10"/>
<rect x="217.8" y="235.15" width="115.77" height="10" fill="#5DF0FD"/>
<rect x="333.27" y="235.15" width="401.87" height="10" fill="#C0CC9A"/>
<rect x="217.8" y="251.96" width="78.13" height="10" fill="#5DF0FD"/>
<rect x="295.63" y="251.96" width="80.69" height="10" fill="#BA8AFB"/>
<rect x="376.02" y="251.96" width="376.66" height="10" fill="#531B10"/>
<rect x="217.8" y="268.77" width="133.31" height="10" fill="#5DF0FD"/>
<rect x="350.81" y="268.77" width="47.44" height="10" fill="#BA8AFB"/>
<rect x="397.94" y="268.77" width="34.65" height="10" fill="#073D22"/>
<rect x="432.29" y="268.77" width="455.59" height="10" fill="#531B10"/>
<rect x="217.8" y="285.58" width="81.42" height="10" fill="#5DF0FD"/>
<rect x="298.92" y="285.58" width="591.52" height="10" fill="#C0CC9A"/>
<rect x="217.8" y="302.39" width="80.69" height="10" fill="#5DF0FD"/>
<rect x="298.19" y="302.39" width="33.92" height="10" fill="#BA8AFB"/>
<rect x="331.8" y="302.39" width="143.54" height="10" fill="#C0CC9A"/>
<rect x="475.04" y="302.39" width="416.13" height="10" fill="#531B10"/>
<rect x="217.8" y="319.2" width="109.55" height="10" fill="#5DF0FD"/>
<rect x="327.05" y="319.2" width="44.88" height="10" fill="#BA8AFB"/>
<rect x="371.63" y="319.2" width="103.71" height="10" fill="#C0CC9A"/>
<rect x="475.04" y="319.2" width="416.13" height="10" fill="#531B10"/>
<rect x="217.8" y="336.01" width="77.76" height="10" fill="#5DF0FD"/>
<rect x="295.26" y="336.01" width="594.44" height="10" fill="#C0CC9A"/>
<rect x="217.8" y="352.82" width="83.25" height="10" fill="#5DF0FD"/>
<rect x="300.75" y="352.82" width="483.72" height="10" fill="#C0CC9A"/>
<rect x="217.8" y="369.63" width="26.61" height="10" fill="#C0CC9A"/>
<rect x="217.8" y="386.44" width="26.24" height="10" fill="#5DF0FD"/>
<rect x="243.74" y="386.44" width="43.05" height="10" fill="#BA8AFB"/>
<rect x="286.5" y="386.44" width="36.47" height="10" fill="#073D22"/>
<rect x="322.67" y="386.44" width="609.06" height="10" fill="#A67B51"/>
<rect x="217.8" y="403.25" width="59.49" height="10" fill="#C0CC9A"/>
<rect x="217.8" y="420.06" width="88.36" height="10" fill="#5DF0FD"/>
<rect x="305.86" y="420.06" width="49.26" height="10" fill="#BA8AFB"/>
<rect x="354.83" y="420.06" width="450.11" height="10" fill="#A67B51"/>
<rect x="217.8" y="436.87" width="103.34" height="10" fill="#5DF0FD"/>
<rect x="320.84" y="436.87" width="83.61" height="10" fill="#BA8AFB"/>
<rect x="404.15" y="436.87" width="536.34" height="10" fill="#A67B51"/>
<rect x="217.8" y="453.68" width="83.25" height="10" fill="#5DF0FD"/>
<rect x="300.75" y="454.08" width="94.27" height="9.2" fill="#F0F0F0" stroke="#c9b4b4" stroke-width="0.8"/>
<rect x="395.02" y="453.68" width="112.84" height="10" fill="#BA8AFB"/>
<rect x="507.56" y="453.68" width="233.06" height="10" fill="#531B10"/>
<rect x="217.8" y="470.49" width="86.17" height="10" fill="#5DF0FD"/>
<rect x="303.67" y="470.49" width="49.99" height="10" fill="#BA8AFB"/>
<rect x="353.36" y="470.49" width="195.06" height="10" fill="#C0CC9A"/>
<rect x="548.12" y="470.49" width="193.6" height="10" fill="#531B10"/>
<rect x="217.8" y="487.3" width="31.72" height="10" fill="#C0CC9A"/>
<rect x="217.8" y="504.11" width="63.15" height="10" fill="#5DF0FD"/>
<rect x="280.65" y="504.11" width="227.94" height="10" fill="#C0CC9A"/>
<rect x="217.8" y="520.92" width="82.51" height="10" fill="#5DF0FD"/>
<rect x="300.01" y="520.92" width="34.28" height="10" fill="#BA8AFB"/>
<rect x="334" y="520.92" width="30.99" height="10" fill="#C0CC9A"/>
<rect x="217.8" y="537.73" width="84.71" height="10" fill="#5DF0FD"/>
<rect x="302.21" y="537.73" width="612.71" height="10" fill="#C0CC9A"/>
<rect x="217.8" y="554.54" width="95.3" height="10" fill="#5DF0FD"/>
<rect x="312.8" y="554.94" width="199.87" height="9.2" fill="#F0F0F0" stroke="#c9b4b4" stroke-width="0.8"/>
<rect x="512.68" y="554.54" width="13.09" height="10" fill="#BA8AFB"/>
<rect x="525.47" y="554.54" width="450.47" height="10" fill="#531B10"/>
<rect x="217.8" y="571.35" width="26.97" height="10" fill="#5DF0FD"/>
<rect x="244.47" y="571.35" width="619.29" height="10" fill="#C0CC9A"/>
<rect x="217.8" y="588.16" width="88.36" height="10" fill="#5DF0FD"/>
<rect x="305.86" y="588.16" width="261.56" height="10" fill="#C0CC9A"/>
<rect x="217.8" y="604.97" width="100.42" height="10" fill="#5DF0FD"/>
<rect x="317.92" y="604.97" width="674.1" height="10" fill="#C0CC9A"/>
<rect x="217.8" y="621.78" width="26.97" height="10" fill="#5DF0FD"/>
<rect x="244.47" y="621.78" width="748.64" height="10" fill="#C0CC9A"/>
<rect x="217.8" y="638.59" width="80.69" height="10" fill="#5DF0FD"/>
<rect x="298.19" y="638.59" width="700.77" height="10" fill="#C0CC9A"/>
<rect x="217.8" y="655.4" width="86.17" height="10" fill="#5DF0FD"/>
<rect x="303.67" y="655.4" width="696.39" height="10" fill="#C0CC9A"/>
<rect x="217.8" y="672.21" width="771.66" height="10" fill="#C0CC9A"/>
<rect x="217.8" y="689.02" width="109.55" height="10" fill="#5DF0FD"/>
<rect x="327.05" y="689.02" width="307.6" height="10" fill="#C0CC9A"/>
<rect x="217.8" y="705.83" width="79.96" height="10" fill="#5DF0FD"/>
<rect x="297.46" y="705.83" width="211.14" height="10" fill="#C0CC9A"/>
<rect x="217.8" y="722.64" width="117.59" height="10" fill="#5DF0FD"/>
<rect x="335.09" y="722.64" width="21.86" height="10" fill="#BA8AFB"/>
<rect x="356.65" y="722.64" width="456.68" height="10" fill="#531B10"/>
<rect x="813.04" y="722.64" width="335.01" height="10" fill="#C0CC9A"/>
<rect x="217.8" y="739.45" width="245.48" height="10" fill="#5DF0FD"/>
<rect x="462.98" y="739.45" width="688.35" height="10" fill="#C0CC9A"/>
<rect x="217.8" y="756.26" width="66.07" height="10" fill="#5DF0FD"/>
<rect x="283.57" y="756.26" width="42.32" height="10" fill="#BA8AFB"/>
<rect x="325.59" y="756.26" width="19.3" height="10" fill="#B3001B"/>
<rect x="344.59" y="756.26" width="448.65" height="10" fill="#531B10"/>
<rect x="792.94" y="756.26" width="363.14" height="10" fill="#C0CC9A"/>
<rect x="217.8" y="773.07" width="103.34" height="10" fill="#5DF0FD"/>
<rect x="320.84" y="773.07" width="43.78" height="10" fill="#BA8AFB"/>
<rect x="364.33" y="773.07" width="38.67" height="10" fill="#B3001B"/>
<rect x="402.69" y="773.07" width="291.16" height="10" fill="#531B10"/>
<rect x="693.55" y="773.07" width="34.65" height="10" fill="#073D22"/>
<rect x="727.9" y="773.07" width="268.5" height="10" fill="#A67B51"/>
<rect x="217.8" y="789.88" width="947.05" height="10" fill="#C0CC9A"/>
<rect x="217.8" y="806.69" width="81.42" height="10" fill="#5DF0FD"/>
<rect x="298.92" y="806.69" width="76.67" height="10" fill="#BA8AFB"/>
<rect x="375.29" y="806.69" width="445.72" height="10" fill="#531B10"/>
<rect x="820.71" y="806.69" width="344.14" height="10" fill="#C0CC9A"/>
<rect x="217.8" y="823.5" width="104.44" height="10" fill="#5DF0FD"/>
<rect x="321.94" y="823.5" width="792.12" height="10" fill="#C0CC9A"/>
<rect x="217.8" y="840.31" width="111.38" height="10" fill="#5DF0FD"/>
<rect x="328.88" y="840.31" width="40.49" height="10" fill="#BA8AFB"/>
<rect x="369.08" y="840.31" width="33.92" height="10" fill="#B3001B"/>
<rect x="402.69" y="840.31" width="447.18" height="10" fill="#531B10"/>
<rect x="849.58" y="840.31" width="327.33" height="10" fill="#A67B51"/>
<rect x="217.8" y="857.12" width="145.73" height="10" fill="#5DF0FD"/>
<rect x="363.23" y="857.12" width="814.78" height="10" fill="#C0CC9A"/>
<rect x="217.8" y="873.93" width="53.28" height="10" fill="#5DF0FD"/>
<rect x="270.78" y="873.93" width="915.99" height="10" fill="#C0CC9A"/>
<rect x="217.8" y="890.74" width="94.57" height="10" fill="#5DF0FD"/>
<rect x="312.07" y="890.74" width="746.45" height="10" fill="#C0CC9A"/>
<rect x="217.8" y="907.55" width="127.46" height="10" fill="#5DF0FD"/>
<rect x="344.96" y="907.55" width="843.28" height="10" fill="#C0CC9A"/>
<rect x="217.8" y="924.36" width="40.49" height="10" fill="#5DF0FD"/>
<rect x="257.99" y="924.36" width="943.4" height="10" fill="#C0CC9A"/>
<rect x="217.8" y="941.17" width="102.25" height="10" fill="#5DF0FD"/>
<rect x="319.75" y="941.17" width="882.74" height="10" fill="#C0CC9A"/>
<rect x="217.8" y="957.98" width="91.28" height="10" fill="#5DF0FD"/>
<rect x="308.78" y="957.98" width="70.46" height="10" fill="#BA8AFB"/>
<rect x="378.94" y="957.98" width="446.82" height="10" fill="#531B10"/>
<rect x="825.46" y="957.98" width="397.86" height="10" fill="#A67B51"/>
<rect x="217.8" y="974.79" width="26.97" height="10" fill="#5DF0FD"/>
<rect x="244.47" y="974.79" width="48.9" height="10" fill="#BA8AFB"/>
<rect x="293.07" y="974.79" width="451.93" height="10" fill="#531B10"/>
<rect x="217.8" y="991.6" width="93.48" height="10" fill="#5DF0FD"/>
<rect x="310.98" y="991.6" width="68.26" height="10" fill="#BA8AFB"/>
<rect x="378.94" y="991.6" width="74.48" height="10" fill="#073D22"/>
<rect x="453.12" y="991.6" width="349.99" height="10" fill="#531B10"/>
<rect x="802.81" y="992" width="39.1" height="9.2" fill="#F0F0F0" stroke="#c9b4b4" stroke-width="0.8"/>
<rect x="841.9" y="991.6" width="292.62" height="10" fill="#A67B51"/>
<rect x="217.8" y="1008.41" width="95.3" height="10" fill="#5DF0FD"/>
<rect x="312.8" y="1008.41" width="78.5" height="10" fill="#BA8AFB"/>
<rect x="391" y="1008.41" width="39.03" height="10" fill="#073D22"/>
<rect x="429.73" y="1008.41" width="450.47" height="10" fill="#531B10"/>
<rect x="879.9" y="1008.41" width="376.66" height="10" fill="#A67B51"/>
<rect x="217.8" y="1025.22" width="84.71" height="10" fill="#5DF0FD"/>
<rect x="302.21" y="1025.22" width="45.98" height="10" fill="#BA8AFB"/>
<rect x="347.88" y="1025.22" width="43.42" height="10" fill="#531B10"/>
<rect x="217.8" y="1042.03" width="26.97" height="10" fill="#5DF0FD"/>
<rect x="244.47" y="1042.03" width="39.76" height="10" fill="#BA8AFB"/>
<rect x="283.94" y="1042.43" width="95" height="9.2" fill="#F0F0F0" stroke="#c9b4b4" stroke-width="0.8"/>
<rect x="378.94" y="1042.03" width="894.43" height="10" fill="#A67B51"/>
<rect x="217.8" y="1058.84" width="56.21" height="10" fill="#5DF0FD"/>
<rect x="273.71" y="1058.84" width="66.07" height="10" fill="#BA8AFB"/>
<rect x="339.48" y="1058.84" width="448.28" height="10" fill="#531B10"/>
<rect x="787.46" y="1058.84" width="487.01" height="10" fill="#A67B51"/>
<rect x="217.8" y="1075.65" width="28.07" height="10" fill="#5DF0FD"/>
<rect x="245.57" y="1075.65" width="37.94" height="10" fill="#BA8AFB"/>
<rect x="283.21" y="1075.65" width="38.3" height="10" fill="#073D22"/>
<rect x="321.21" y="1075.65" width="447.55" height="10" fill="#531B10"/>
<rect x="768.46" y="1075.65" width="507.48" height="10" fill="#A67B51"/>
<rect x="217.8" y="1092.46" width="93.48" height="10" fill="#5DF0FD"/>
<rect x="310.98" y="1092.46" width="42.69" height="10" fill="#BA8AFB"/>
<rect x="353.36" y="1092.46" width="446.82" height="10" fill="#531B10"/>
<rect x="799.88" y="1092.46" width="480.07" height="10" fill="#A67B51"/>
<rect x="217.8" y="1109.27" width="93.48" height="10" fill="#5DF0FD"/>
<rect x="310.98" y="1109.27" width="56.21" height="10" fill="#BA8AFB"/>
<rect x="366.88" y="1109.27" width="447.18" height="10" fill="#531B10"/>
<rect x="813.77" y="1109.27" width="466.19" height="10" fill="#A67B51"/>
<rect x="217.8" y="1126.08" width="28.07" height="10" fill="#5DF0FD"/>
<rect x="245.57" y="1126.08" width="31.72" height="10" fill="#BA8AFB"/>
<rect x="276.99" y="1126.08" width="37.57" height="10" fill="#073D22"/>
<rect x="314.27" y="1126.08" width="447.91" height="10" fill="#531B10"/>
<rect x="761.88" y="1126.08" width="537.07" height="10" fill="#A67B51"/>
<rect x="217.8" y="1142.89" width="83.25" height="10" fill="#5DF0FD"/>
<rect x="300.75" y="1142.89" width="203.83" height="10" fill="#C0CC9A"/>
<rect x="217.8" y="1159.7" width="144.27" height="10" fill="#5DF0FD"/>
<rect x="361.77" y="1159.7" width="75.21" height="10" fill="#C0CC9A"/>
<rect x="217.8" y="1176.51" width="61.32" height="10" fill="#5DF0FD"/>
<rect x="278.82" y="1176.51" width="310.52" height="10" fill="#C0CC9A"/>
<rect x="217.8" y="1193.32" width="86.9" height="10" fill="#5DF0FD"/>
<rect x="304.4" y="1193.32" width="875.07" height="10" fill="#C0CC9A"/>
<rect x="217.8" y="1210.13" width="80.69" height="10" fill="#5DF0FD"/>
<rect x="298.19" y="1210.13" width="1017.94" height="10" fill="#C0CC9A"/>
<rect x="217.8" y="1226.94" width="28.07" height="10" fill="#5DF0FD"/>
<rect x="245.57" y="1226.94" width="18.57" height="10" fill="#BA8AFB"/>
<rect x="263.84" y="1226.94" width="38.67" height="10" fill="#C0CC9A"/>
<rect x="217.8" y="1243.75" width="28.07" height="10" fill="#5DF0FD"/>
<rect x="245.57" y="1243.75" width="49.99" height="10" fill="#BA8AFB"/>
<rect x="295.26" y="1243.75" width="39.03" height="10" fill="#073D22"/>
<rect x="334" y="1243.75" width="993.46" height="10" fill="#A67B51"/>
<rect x="217.8" y="1260.56" width="85.07" height="10" fill="#5DF0FD"/>
<rect x="302.57" y="1260.56" width="58.03" height="10" fill="#BA8AFB"/>
<rect x="360.31" y="1260.56" width="447.92" height="10" fill="#531B10"/>
<rect x="807.92" y="1260.56" width="548.4" height="10" fill="#A67B51"/>
<rect x="217.8" y="1277.37" width="128.92" height="10" fill="#5DF0FD"/>
<rect x="346.42" y="1277.37" width="613.44" height="10" fill="#C0CC9A"/>
<rect x="217.8" y="1294.18" width="102.25" height="10" fill="#5DF0FD"/>
<rect x="319.75" y="1294.18" width="174.96" height="10" fill="#C0CC9A"/>
<rect x="217.8" y="1310.99" width="28.07" height="10" fill="#5DF0FD"/>
<rect x="245.57" y="1310.99" width="38.3" height="10" fill="#BA8AFB"/>
<rect x="283.57" y="1310.99" width="37.94" height="10" fill="#073D22"/>
<rect x="321.21" y="1310.99" width="447.55" height="10" fill="#531B10"/>
<rect x="768.46" y="1310.99" width="683.23" height="10" fill="#A67B51"/>
<rect x="217.8" y="1327.8" width="38.67" height="10" fill="#5DF0FD"/>
<rect x="256.17" y="1327.8" width="35.01" height="10" fill="#BA8AFB"/>
<rect x="290.88" y="1327.8" width="39.03" height="10" fill="#073D22"/>
<rect x="329.61" y="1327.8" width="1125.37" height="10" fill="#A67B51"/>
<rect x="217.8" y="1344.61" width="36.84" height="10" fill="#C0CC9A"/>
<rect x="217.8" y="1361.42" width="26.97" height="10" fill="#5DF0FD"/>
<rect x="244.47" y="1361.42" width="31.36" height="10" fill="#BA8AFB"/>
<rect x="275.53" y="1361.42" width="39.03" height="10" fill="#073D22"/>
<rect x="314.27" y="1361.42" width="24.42" height="10" fill="#A67B51"/>
<rect x="217.8" y="1378.23" width="86.9" height="10" fill="#5DF0FD"/>
<rect x="304.4" y="1378.23" width="1179.81" height="10" fill="#C0CC9A"/>
<rect x="217.8" y="1395.04" width="28.07" height="10" fill="#5DF0FD"/>
<rect x="245.57" y="1395.04" width="34.65" height="10" fill="#BA8AFB"/>
<rect x="279.92" y="1395.04" width="39.76" height="10" fill="#073D22"/>
<rect x="319.38" y="1395.04" width="26.97" height="10" fill="#531B10"/>
<rect x="346.06" y="1395.04" width="1142.17" height="10" fill="#A67B51"/>
<rect x="217.8" y="1411.85" width="399.68" height="10" fill="#C0CC9A"/>
<rect x="217.8" y="1428.66" width="29.17" height="10" fill="#5DF0FD"/>
<rect x="246.67" y="1428.66" width="68.63" height="10" fill="#BA8AFB"/>
<rect x="315" y="1428.66" width="38.67" height="10" fill="#073D22"/>
<rect x="353.36" y="1428.66" width="1160.44" height="10" fill="#A67B51"/>
<rect x="217.8" y="1445.47" width="26.97" height="10" fill="#5DF0FD"/>
<rect x="244.47" y="1445.47" width="51.46" height="10" fill="#BA8AFB"/>
<rect x="295.63" y="1445.47" width="39.4" height="10" fill="#073D22"/>
<rect x="334.73" y="1445.47" width="1203.2" height="10" fill="#A67B51"/>
</g>
<g stroke="#000" fill="none" stroke-width="1.1">
<path d="M338.75 125.4V140.1" stroke-width="1.2"/>
<path d="M338.75 142L335.65 137.8L338.75 139.2L341.85 137.8Z" fill="#000" stroke-width="0.7"/>
<path d="M311.34 143.9V158.6" stroke-width="1.2"/>
<path d="M311.34 160.5L308.24 156.3L311.34 157.7L314.44 156.3Z" fill="#000" stroke-width="0.7"/>
<path d="M317.55 160.71V175.41" stroke-width="1.2"/>
<path d="M317.55 177.31L314.45 173.11L317.55 174.51L320.65 173.11Z" fill="#000" stroke-width="0.7"/>
<path d="M763.92 176.61H773.72L768.82 168.01Z" stroke-width="1"/>
<line x1="343.13" y1="184.72" x2="343.13" y2="194.72" stroke="#888" stroke-width="0.8"/>
<rect x="341.33" y="179.12" width="3.6" height="3.6" fill="#fff" stroke="#222" stroke-width="0.9"/>
<path d="M301.11 177.52V192.22" stroke-width="1.2"/>
<path d="M301.11 194.12L298.01 189.92L301.11 191.32L304.21 189.92Z" fill="#000" stroke-width="0.7"/>
<path d="M737.25 193.42H747.05L742.15 184.82Z" stroke-width="1"/>
<path d="M850.6 191.12H865" stroke-width="1.1"/>
<path d="M867 191.12L862.4 187.92L863.7 191.12L862.4 194.32Z" fill="#000" stroke-width="0.6"/>
<path d="M304.4 194.33V209.03" stroke-width="1.2"/>
<path d="M304.4 210.93L301.3 206.73L304.4 208.13L307.5 206.73Z" fill="#000" stroke-width="0.7"/>
<line x1="335.46" y1="218.34" x2="335.46" y2="228.34" stroke="#888" stroke-width="0.8"/>
<rect x="333.66" y="212.74" width="3.6" height="3.6" fill="#fff" stroke="#222" stroke-width="0.9"/>
<path d="M302.21 211.14V225.84" stroke-width="1.2"/>
<path d="M302.21 227.74L299.11 223.54L302.21 224.94L305.31 223.54Z" fill="#000" stroke-width="0.7"/>
<path d="M857.6 225.24H872" stroke-width="1.1"/>
<path d="M874 225.24L869.4 222.04L870.7 225.24L869.4 228.44Z" fill="#000" stroke-width="0.6"/>
<path d="M333.27 227.95V242.65" stroke-width="1.2"/>
<path d="M333.27 244.55L330.17 240.35L333.27 241.75L336.37 240.35Z" fill="#000" stroke-width="0.7"/>
<line x1="376.02" y1="251.96" x2="376.02" y2="261.96" stroke="#888" stroke-width="0.8"/>
<rect x="374.22" y="246.36" width="3.6" height="3.6" fill="#fff" stroke="#222" stroke-width="0.9"/>
<path d="M295.63 244.76V259.46" stroke-width="1.2"/>
<path d="M295.63 261.36L292.53 257.16L295.63 258.56L298.73 257.16Z" fill="#000" stroke-width="0.7"/>
<path d="M744.5 256.76H758.9" stroke-width="1.1"/>
<path d="M760.9 256.76L756.3 253.56L757.6 256.76L756.3 259.96Z" fill="#000" stroke-width="0.6"/>
<line x1="397.94" y1="268.77" x2="397.94" y2="278.77" stroke="#888" stroke-width="0.8"/>
<rect x="396.14" y="263.17" width="3.6" height="3.6" fill="#fff" stroke="#222" stroke-width="0.9"/>
<path d="M350.81 261.57V276.27" stroke-width="1.2"/>
<path d="M350.81 278.17L347.71 273.97L350.81 275.37L353.91 273.97Z" fill="#000" stroke-width="0.7"/>
<path d="M881.6 273.37H896" stroke-width="1.1"/>
<path d="M898 273.37L893.4 270.17L894.7 273.37L893.4 276.57Z" fill="#000" stroke-width="0.6"/>
<path d="M298.92 278.38V293.08" stroke-width="1.2"/>
<path d="M298.92 294.98L295.82 290.78L298.92 292.18L302.02 290.78Z" fill="#000" stroke-width="0.7"/>
<line x1="331.8" y1="302.39" x2="331.8" y2="312.39" stroke="#888" stroke-width="0.8"/>
<rect x="330" y="296.79" width="3.6" height="3.6" fill="#fff" stroke="#222" stroke-width="0.9"/>
<path d="M298.19 295.19V309.89" stroke-width="1.2"/>
<path d="M298.19 311.79L295.09 307.59L298.19 308.99L301.29 307.59Z" fill="#000" stroke-width="0.7"/>
<path d="M885.6 306.29H900" stroke-width="1.1"/>
<path d="M902 306.29L897.4 303.09L898.7 306.29L897.4 309.49Z" fill="#000" stroke-width="0.6"/>
<line x1="371.63" y1="319.2" x2="371.63" y2="329.2" stroke="#888" stroke-width="0.8"/>
<rect x="369.83" y="313.6" width="3.6" height="3.6" fill="#fff" stroke="#222" stroke-width="0.9"/>
<path d="M327.05 312V326.7" stroke-width="1.2"/>
<path d="M327.05 328.6L323.95 324.4L327.05 325.8L330.15 324.4Z" fill="#000" stroke-width="0.7"/>
<path d="M885.6 323.2H900" stroke-width="1.1"/>
<path d="M902 323.2L897.4 320L898.7 323.2L897.4 326.4Z" fill="#000" stroke-width="0.6"/>
<path d="M295.26 328.81V343.51" stroke-width="1.2"/>
<path d="M295.26 345.41L292.16 341.21L295.26 342.61L298.36 341.21Z" fill="#000" stroke-width="0.7"/>
<circle cx="885.02" cy="341.01" r="5" stroke-width="1"/><path d="M880.02 341.01H890.02M885.02 336.01V346.01" stroke-width="1"/>
<path d="M300.75 345.62V360.32" stroke-width="1.2"/>
<path d="M300.75 362.22L297.65 358.02L300.75 359.42L303.85 358.02Z" fill="#000" stroke-width="0.7"/>
<path d="M220.36 362.43V377.13" stroke-width="1.2"/>
<path d="M220.36 379.03L217.26 374.83L220.36 376.23L223.46 374.83Z" fill="#000" stroke-width="0.7"/>
<path d="M238.84 378.33H248.64L243.74 369.73Z" stroke-width="1"/>
<circle cx="255.07" cy="374.63" r="5" stroke-width="1"/><path d="M250.07 374.63H260.07M255.07 369.63V379.63" stroke-width="1"/>
<line x1="286.5" y1="386.44" x2="286.5" y2="396.44" stroke="#888" stroke-width="0.8"/>
<rect x="284.7" y="380.84" width="3.6" height="3.6" fill="#fff" stroke="#222" stroke-width="0.9"/>
<path d="M243.74 379.24V393.94" stroke-width="1.2"/>
<path d="M243.74 395.84L240.64 391.64L243.74 393.04L246.84 391.64Z" fill="#000" stroke-width="0.7"/>
<line x1="322.67" y1="381.94" x2="322.67" y2="396.44" stroke-width="1.1"/>
<path d="M220.36 396.05V410.75" stroke-width="1.2"/>
<path d="M220.36 412.65L217.26 408.45L220.36 409.85L223.46 408.45Z" fill="#000" stroke-width="0.7"/>
<circle cx="279.92" cy="408.25" r="5" stroke-width="1"/><path d="M274.92 408.25H284.92" stroke-width="1"/>
<line x1="354.83" y1="420.06" x2="354.83" y2="430.06" stroke="#888" stroke-width="0.8"/>
<rect x="353.03" y="414.46" width="3.6" height="3.6" fill="#fff" stroke="#222" stroke-width="0.9"/>
<path d="M305.86 412.86V427.56" stroke-width="1.2"/>
<path d="M305.86 429.46L302.76 425.26L305.86 426.66L308.96 425.26Z" fill="#000" stroke-width="0.7"/>
<line x1="404.15" y1="436.87" x2="404.15" y2="446.87" stroke="#888" stroke-width="0.8"/>
<rect x="402.35" y="431.27" width="3.6" height="3.6" fill="#fff" stroke="#222" stroke-width="0.9"/>
<path d="M320.84 429.67V444.37" stroke-width="1.2"/>
<path d="M320.84 446.27L317.74 442.07L320.84 443.47L323.94 442.07Z" fill="#000" stroke-width="0.7"/>
<line x1="418.4" y1="432.37" x2="418.4" y2="446.87" stroke-width="1.1"/>
<path d="M518.37 445.57H528.17L523.27 436.97Z" stroke-width="1"/>
<circle cx="934.71" cy="441.87" r="5" stroke-width="1"/><path d="M929.71 441.87H939.71M934.71 436.87V446.87" stroke-width="1"/>
<line x1="507.56" y1="453.68" x2="507.56" y2="463.68" stroke="#888" stroke-width="0.8"/>
<rect x="505.76" y="448.08" width="3.6" height="3.6" fill="#fff" stroke="#222" stroke-width="0.9"/>
<path d="M300.75 446.48V461.18" stroke-width="1.2"/>
<path d="M300.75 463.08L297.65 458.88L300.75 460.28L303.85 458.88Z" fill="#000" stroke-width="0.7"/>
<path d="M725.92 462.38H735.72L730.82 453.78Z" stroke-width="1"/>
<circle cx="739.59" cy="458.68" r="5" stroke-width="1"/><path d="M734.59 458.68H744.59M739.59 453.68V463.68" stroke-width="1"/>
<line x1="353.36" y1="470.49" x2="353.36" y2="480.49" stroke="#888" stroke-width="0.8"/>
<rect x="351.56" y="464.89" width="3.6" height="3.6" fill="#fff" stroke="#222" stroke-width="0.9"/>
<path d="M303.67 463.29V477.99" stroke-width="1.2"/>
<path d="M303.67 479.89L300.57 475.69L303.67 477.09L306.77 475.69Z" fill="#000" stroke-width="0.7"/>
<path d="M724.09 479.19H733.89L728.99 470.59Z" stroke-width="1"/>
<circle cx="741.05" cy="475.49" r="5" stroke-width="1"/><path d="M736.05 475.49H746.05M741.05 470.49V480.49" stroke-width="1"/>
<path d="M220.36 480.1V494.8" stroke-width="1.2"/>
<path d="M220.36 496.7L217.26 492.5L220.36 493.9L223.46 492.5Z" fill="#000" stroke-width="0.7"/>
<circle cx="251.78" cy="492.3" r="5" stroke-width="1"/><path d="M246.78 492.3H256.78M251.78 487.3V497.3" stroke-width="1"/>
<path d="M280.65 496.91V511.61" stroke-width="1.2"/>
<path d="M280.65 513.51L277.55 509.31L280.65 510.71L283.75 509.31Z" fill="#000" stroke-width="0.7"/>
<path d="M490.6 512.81H500.4L495.5 504.21Z" stroke-width="1"/>
<circle cx="505.74" cy="509.11" r="5" stroke-width="1"/><path d="M500.74 509.11H510.74M505.74 504.11V514.11" stroke-width="1"/>
<line x1="334" y1="520.92" x2="334" y2="530.92" stroke="#888" stroke-width="0.8"/>
<rect x="332.2" y="515.32" width="3.6" height="3.6" fill="#fff" stroke="#222" stroke-width="0.9"/>
<path d="M300.01 513.72V528.42" stroke-width="1.2"/>
<path d="M300.01 530.32L296.91 526.12L300.01 527.52L303.12 526.12Z" fill="#000" stroke-width="0.7"/>
<circle cx="361.77" cy="525.92" r="5" stroke-width="1"/><path d="M356.77 525.92H366.77M361.77 520.92V530.92" stroke-width="1"/>
<path d="M302.21 530.53V545.23" stroke-width="1.2"/>
<path d="M302.21 547.13L299.11 542.93L302.21 544.33L305.31 542.93Z" fill="#000" stroke-width="0.7"/>
<circle cx="910.23" cy="542.73" r="5" stroke-width="1"/><path d="M905.23 542.73H915.23M910.23 537.73V547.73" stroke-width="1"/>
<line x1="525.47" y1="554.54" x2="525.47" y2="564.54" stroke="#888" stroke-width="0.8"/>
<rect x="523.67" y="548.94" width="3.6" height="3.6" fill="#fff" stroke="#222" stroke-width="0.9"/>
<path d="M312.8 547.34V562.04" stroke-width="1.2"/>
<path d="M312.8 563.94L309.7 559.74L312.8 561.14L315.9 559.74Z" fill="#000" stroke-width="0.7"/>
<path d="M969.4 559.34H983.8" stroke-width="1.1"/>
<path d="M985.8 559.34L981.2 556.14L982.5 559.34L981.2 562.54Z" fill="#000" stroke-width="0.6"/>
<path d="M244.47 564.15V578.85" stroke-width="1.2"/>
<path d="M244.47 580.75L241.37 576.55L244.47 577.95L247.57 576.55Z" fill="#000" stroke-width="0.7"/>
<path d="M305.86 580.96V595.66" stroke-width="1.2"/>
<path d="M305.86 597.56L302.76 593.36L305.86 594.76L308.96 593.36Z" fill="#000" stroke-width="0.7"/>
<path d="M450.41 596.86H460.21L455.31 588.26Z" stroke-width="1"/>
<circle cx="566.39" cy="593.16" r="5" stroke-width="1"/><path d="M561.39 593.16H571.39M566.39 588.16V598.16" stroke-width="1"/>
<path d="M317.92 597.77V612.47" stroke-width="1.2"/>
<path d="M317.92 614.37L314.82 610.17L317.92 611.57L321.02 610.17Z" fill="#000" stroke-width="0.7"/>
<path d="M244.47 614.58V629.28" stroke-width="1.2"/>
<path d="M244.47 631.18L241.37 626.98L244.47 628.38L247.57 626.98Z" fill="#000" stroke-width="0.7"/>
<path d="M298.19 631.39V646.09" stroke-width="1.2"/>
<path d="M298.19 647.99L295.09 643.79L298.19 645.19L301.29 643.79Z" fill="#000" stroke-width="0.7"/>
<path d="M921.78 647.29H931.58L926.68 638.69Z" stroke-width="1"/>
<path d="M303.67 648.2V662.9" stroke-width="1.2"/>
<path d="M303.67 664.8L300.57 660.6L303.67 662L306.77 660.6Z" fill="#000" stroke-width="0.7"/>
<path d="M220.36 665.01V679.71" stroke-width="1.2"/>
<path d="M220.36 681.61L217.26 677.41L220.36 678.81L223.46 677.41Z" fill="#000" stroke-width="0.7"/>
<path d="M473.06 680.91H482.86L477.96 672.31Z" stroke-width="1"/>
<circle cx="985.14" cy="677.21" r="5" stroke-width="1"/><path d="M980.14 677.21H990.14M985.14 672.21V682.21" stroke-width="1"/>
<path d="M327.05 681.82V696.52" stroke-width="1.2"/>
<path d="M327.05 698.42L323.95 694.22L327.05 695.62L330.15 694.22Z" fill="#000" stroke-width="0.7"/>
<path d="M252.73 697.72H262.53L257.63 689.12Z" stroke-width="1"/>
<circle cx="631.07" cy="694.02" r="5" stroke-width="1"/><path d="M626.07 694.02H636.07M631.07 689.02V699.02" stroke-width="1"/>
<path d="M297.46 698.63V713.33" stroke-width="1.2"/>
<path d="M297.46 715.23L294.36 711.03L297.46 712.43L300.56 711.03Z" fill="#000" stroke-width="0.7"/>
<path d="M488.78 714.53H498.58L493.68 705.93Z" stroke-width="1"/>
<circle cx="503.54" cy="710.83" r="5" stroke-width="1"/><path d="M498.54 710.83H508.54M503.54 705.83V715.83" stroke-width="1"/>
<line x1="356.65" y1="722.64" x2="356.65" y2="732.64" stroke="#888" stroke-width="0.8"/>
<rect x="354.85" y="717.04" width="3.6" height="3.6" fill="#fff" stroke="#222" stroke-width="0.9"/>
<path d="M335.09 715.44V730.14" stroke-width="1.2"/>
<path d="M335.09 732.04L331.99 727.84L335.09 729.24L338.19 727.84Z" fill="#000" stroke-width="0.7"/>
<path d="M462.98 732.25V746.95" stroke-width="1.2"/>
<path d="M462.98 748.85L459.88 744.65L462.98 746.05L466.08 744.65Z" fill="#000" stroke-width="0.7"/>
<line x1="325.59" y1="756.26" x2="325.59" y2="766.26" stroke="#888" stroke-width="0.8"/>
<rect x="323.79" y="750.66" width="3.6" height="3.6" fill="#fff" stroke="#222" stroke-width="0.9"/>
<path d="M283.57 749.06V763.76" stroke-width="1.2"/>
<path d="M283.57 765.66L280.47 761.46L283.57 762.86L286.67 761.46Z" fill="#000" stroke-width="0.7"/>
<line x1="364.33" y1="773.07" x2="364.33" y2="783.07" stroke="#888" stroke-width="0.8"/>
<rect x="362.53" y="767.47" width="3.6" height="3.6" fill="#fff" stroke="#222" stroke-width="0.9"/>
<path d="M320.84 765.87V780.57" stroke-width="1.2"/>
<path d="M320.84 782.47L317.74 778.27L320.84 779.67L323.94 778.27Z" fill="#000" stroke-width="0.7"/>
<path d="M912.64 781.77H922.44L917.54 773.17Z" stroke-width="1"/>
<circle cx="990.99" cy="778.07" r="5" stroke-width="1"/><path d="M985.99 778.07H995.99M990.99 773.07V783.07" stroke-width="1"/>
<path d="M220.36 782.68V797.38" stroke-width="1.2"/>
<path d="M220.36 799.28L217.26 795.08L220.36 796.48L223.46 795.08Z" fill="#000" stroke-width="0.7"/>
<line x1="375.29" y1="806.69" x2="375.29" y2="816.69" stroke="#888" stroke-width="0.8"/>
<rect x="373.49" y="801.09" width="3.6" height="3.6" fill="#fff" stroke="#222" stroke-width="0.9"/>
<path d="M298.92 799.49V814.19" stroke-width="1.2"/>
<path d="M298.92 816.09L295.82 811.89L298.92 813.29L302.02 811.89Z" fill="#000" stroke-width="0.7"/>
<path d="M321.94 816.3V831" stroke-width="1.2"/>
<path d="M321.94 832.9L318.84 828.7L321.94 830.1L325.04 828.7Z" fill="#000" stroke-width="0.7"/>
<circle cx="1109.38" cy="828.5" r="5" stroke-width="1"/><path d="M1104.38 828.5H1114.38M1109.38 823.5V833.5" stroke-width="1"/>
<line x1="369.08" y1="840.31" x2="369.08" y2="850.31" stroke="#888" stroke-width="0.8"/>
<rect x="367.28" y="834.71" width="3.6" height="3.6" fill="#fff" stroke="#222" stroke-width="0.9"/>
<path d="M328.88 833.11V847.81" stroke-width="1.2"/>
<path d="M328.88 849.71L325.78 845.51L328.88 846.91L331.98 845.51Z" fill="#000" stroke-width="0.7"/>
<path d="M363.23 849.92V864.62" stroke-width="1.2"/>
<path d="M363.23 866.52L360.13 862.32L363.23 863.72L366.33 862.32Z" fill="#000" stroke-width="0.7"/>
<path d="M270.78 866.73V881.43" stroke-width="1.2"/>
<path d="M270.78 883.33L267.68 879.13L270.78 880.53L273.88 879.13Z" fill="#000" stroke-width="0.7"/>
<path d="M312.07 883.54V898.24" stroke-width="1.2"/>
<path d="M312.07 900.14L308.97 895.94L312.07 897.34L315.17 895.94Z" fill="#000" stroke-width="0.7"/>
<path d="M613.38 899.44H623.18L618.28 890.84Z" stroke-width="1"/>
<path d="M344.96 900.35V915.05" stroke-width="1.2"/>
<path d="M344.96 916.95L341.86 912.75L344.96 914.15L348.06 912.75Z" fill="#000" stroke-width="0.7"/>
<path d="M787.31 918.45H797.11L792.21 909.95Z" stroke-width="1"/>
<path d="M257.99 917.16V931.86" stroke-width="1.2"/>
<path d="M257.99 933.76L254.89 929.56L257.99 930.96L261.09 929.56Z" fill="#000" stroke-width="0.7"/>
<path d="M319.75 933.97V948.67" stroke-width="1.2"/>
<path d="M319.75 950.57L316.65 946.37L319.75 947.77L322.85 946.37Z" fill="#000" stroke-width="0.7"/>
<line x1="378.94" y1="957.98" x2="378.94" y2="967.98" stroke="#888" stroke-width="0.8"/>
<rect x="377.14" y="952.38" width="3.6" height="3.6" fill="#fff" stroke="#222" stroke-width="0.9"/>
<path d="M308.78 950.78V965.48" stroke-width="1.2"/>
<path d="M308.78 967.38L305.68 963.18L308.78 964.58L311.88 963.18Z" fill="#000" stroke-width="0.7"/>
<line x1="925.58" y1="953.98" x2="925.58" y2="968.18" stroke-width="2.8"/>
<line x1="998.29" y1="953.98" x2="998.29" y2="968.18" stroke-width="2.8"/>
<line x1="293.07" y1="974.79" x2="293.07" y2="984.79" stroke="#888" stroke-width="0.8"/>
<rect x="291.27" y="969.19" width="3.6" height="3.6" fill="#fff" stroke="#222" stroke-width="0.9"/>
<path d="M244.47 967.59V982.29" stroke-width="1.2"/>
<path d="M244.47 984.19L241.37 979.99L244.47 981.39L247.57 979.99Z" fill="#000" stroke-width="0.7"/>
<path d="M633.11 983.49H642.91L638.01 974.89Z" stroke-width="1"/>
<circle cx="745.44" cy="979.79" r="5" stroke-width="1"/><path d="M740.44 979.79H750.44M745.44 974.79V984.79" stroke-width="1"/>
<line x1="378.94" y1="991.6" x2="378.94" y2="1001.6" stroke="#888" stroke-width="0.8"/>
<rect x="377.14" y="986" width="3.6" height="3.6" fill="#fff" stroke="#222" stroke-width="0.9"/>
<path d="M310.98 984.4V999.1" stroke-width="1.2"/>
<path d="M310.98 1001L307.88 996.8L310.98 998.2L314.08 996.8Z" fill="#000" stroke-width="0.7"/>
<path d="M790.23 1000.3H800.03L795.13 991.7Z" stroke-width="1"/>
<circle cx="1130.2" cy="996.6" r="5" stroke-width="1"/><path d="M1125.2 996.6H1135.2M1130.2 991.6V1001.6" stroke-width="1"/>
<line x1="391" y1="1008.41" x2="391" y2="1018.41" stroke="#888" stroke-width="0.8"/>
<rect x="389.2" y="1002.81" width="3.6" height="3.6" fill="#fff" stroke="#222" stroke-width="0.9"/>
<path d="M312.8 1001.21V1015.91" stroke-width="1.2"/>
<path d="M312.8 1017.81L309.7 1013.61L312.8 1015.01L315.9 1013.61Z" fill="#000" stroke-width="0.7"/>
<line x1="347.88" y1="1025.22" x2="347.88" y2="1035.22" stroke="#888" stroke-width="0.8"/>
<rect x="346.08" y="1019.62" width="3.6" height="3.6" fill="#fff" stroke="#222" stroke-width="0.9"/>
<path d="M302.21 1018.02V1032.72" stroke-width="1.2"/>
<path d="M302.21 1034.62L299.11 1030.42L302.21 1031.82L305.31 1030.42Z" fill="#000" stroke-width="0.7"/>
<circle cx="391.37" cy="1030.22" r="5" stroke-width="1"/><path d="M386.37 1030.22H396.37M391.37 1025.22V1035.22" stroke-width="1"/>
<line x1="283.94" y1="1042.03" x2="283.94" y2="1052.03" stroke="#888" stroke-width="0.8"/>
<rect x="282.14" y="1036.43" width="3.6" height="3.6" fill="#fff" stroke="#222" stroke-width="0.9"/>
<path d="M244.47 1034.83V1049.53" stroke-width="1.2"/>
<path d="M244.47 1051.43L241.37 1047.23L244.47 1048.63L247.57 1047.23Z" fill="#000" stroke-width="0.7"/>
<line x1="339.48" y1="1058.84" x2="339.48" y2="1068.84" stroke="#888" stroke-width="0.8"/>
<rect x="337.68" y="1053.24" width="3.6" height="3.6" fill="#fff" stroke="#222" stroke-width="0.9"/>
<path d="M273.71 1051.64V1066.34" stroke-width="1.2"/>
<path d="M273.71 1068.24L270.61 1064.04L273.71 1065.44L276.81 1064.04Z" fill="#000" stroke-width="0.7"/>
<path d="M935.3 1067.54H945.1L940.2 1058.94Z" stroke-width="1"/>
<line x1="283.21" y1="1075.65" x2="283.21" y2="1085.65" stroke="#888" stroke-width="0.8"/>
<rect x="281.41" y="1070.05" width="3.6" height="3.6" fill="#fff" stroke="#222" stroke-width="0.9"/>
<path d="M245.57 1068.45V1083.15" stroke-width="1.2"/>
<path d="M245.57 1085.05L242.47 1080.85L245.57 1082.25L248.67 1080.85Z" fill="#000" stroke-width="0.7"/>
<line x1="353.36" y1="1092.46" x2="353.36" y2="1102.46" stroke="#888" stroke-width="0.8"/>
<rect x="351.56" y="1086.86" width="3.6" height="3.6" fill="#fff" stroke="#222" stroke-width="0.9"/>
<path d="M310.98 1085.26V1099.96" stroke-width="1.2"/>
<path d="M310.98 1101.86L307.88 1097.66L310.98 1099.06L314.08 1097.66Z" fill="#000" stroke-width="0.7"/>
<line x1="366.88" y1="1109.27" x2="366.88" y2="1119.27" stroke="#888" stroke-width="0.8"/>
<rect x="365.08" y="1103.67" width="3.6" height="3.6" fill="#fff" stroke="#222" stroke-width="0.9"/>
<path d="M310.98 1102.07V1116.77" stroke-width="1.2"/>
<path d="M310.98 1118.67L307.88 1114.47L310.98 1115.87L314.08 1114.47Z" fill="#000" stroke-width="0.7"/>
<path d="M873.91 1117.97H883.71L878.81 1109.37Z" stroke-width="1"/>
<line x1="276.99" y1="1126.08" x2="276.99" y2="1136.08" stroke="#888" stroke-width="0.8"/>
<rect x="275.19" y="1120.48" width="3.6" height="3.6" fill="#fff" stroke="#222" stroke-width="0.9"/>
<path d="M245.57 1118.88V1133.58" stroke-width="1.2"/>
<path d="M245.57 1135.48L242.47 1131.28L245.57 1132.68L248.67 1131.28Z" fill="#000" stroke-width="0.7"/>
<path d="M942.97 1134.78H952.77L947.87 1126.18Z" stroke-width="1"/>
<path d="M300.75 1135.69V1150.39" stroke-width="1.2"/>
<path d="M300.75 1152.29L297.65 1148.09L300.75 1149.49L303.85 1148.09Z" fill="#000" stroke-width="0.7"/>
<circle cx="499.89" cy="1147.89" r="5" stroke-width="1"/><path d="M494.89 1147.89H504.89M499.89 1142.89V1152.89" stroke-width="1"/>
<path d="M361.77 1152.5V1167.2" stroke-width="1.2"/>
<path d="M361.77 1169.1L358.67 1164.9L361.77 1166.3L364.87 1164.9Z" fill="#000" stroke-width="0.7"/>
<circle cx="430.46" cy="1164.7" r="5" stroke-width="1"/><path d="M425.46 1164.7H435.46M430.46 1159.7V1169.7" stroke-width="1"/>
<path d="M278.82 1169.31V1184.01" stroke-width="1.2"/>
<path d="M278.82 1185.91L275.72 1181.71L278.82 1183.11L281.92 1181.71Z" fill="#000" stroke-width="0.7"/>
<path d="M294.38 1185.21H304.18L299.28 1176.61Z" stroke-width="1"/>
<circle cx="585.03" cy="1181.51" r="5" stroke-width="1"/><path d="M580.03 1181.51H590.03M585.03 1176.51V1186.51" stroke-width="1"/>
<path d="M304.4 1186.12V1200.82" stroke-width="1.2"/>
<path d="M304.4 1202.72L301.3 1198.52L304.4 1199.92L307.5 1198.52Z" fill="#000" stroke-width="0.7"/>
<path d="M298.19 1202.93V1217.63" stroke-width="1.2"/>
<path d="M298.19 1219.53L295.09 1215.33L298.19 1216.73L301.29 1215.33Z" fill="#000" stroke-width="0.7"/>
<path d="M1001.8 1218.83H1011.6L1006.7 1210.23Z" stroke-width="1"/>
<line x1="263.84" y1="1226.94" x2="263.84" y2="1236.94" stroke="#888" stroke-width="0.8"/>
<rect x="262.04" y="1221.34" width="3.6" height="3.6" fill="#fff" stroke="#222" stroke-width="0.9"/>
<path d="M245.57 1219.74V1234.44" stroke-width="1.2"/>
<path d="M245.57 1236.34L242.47 1232.14L245.57 1233.54L248.67 1232.14Z" fill="#000" stroke-width="0.7"/>
<circle cx="301.48" cy="1231.94" r="5" stroke-width="1"/><path d="M296.48 1231.94H306.48M301.48 1226.94V1236.94" stroke-width="1"/>
<line x1="295.26" y1="1243.75" x2="295.26" y2="1253.75" stroke="#888" stroke-width="0.8"/>
<rect x="293.46" y="1238.15" width="3.6" height="3.6" fill="#fff" stroke="#222" stroke-width="0.9"/>
<path d="M245.57 1236.55V1251.25" stroke-width="1.2"/>
<path d="M245.57 1253.15L242.47 1248.95L245.57 1250.35L248.67 1248.95Z" fill="#000" stroke-width="0.7"/>
<line x1="334" y1="1239.25" x2="334" y2="1253.75" stroke-width="1.1"/>
<line x1="360.31" y1="1260.56" x2="360.31" y2="1270.56" stroke="#888" stroke-width="0.8"/>
<rect x="358.51" y="1254.96" width="3.6" height="3.6" fill="#fff" stroke="#222" stroke-width="0.9"/>
<path d="M302.57 1253.36V1268.06" stroke-width="1.2"/>
<path d="M302.57 1269.96L299.47 1265.76L302.57 1267.16L305.67 1265.76Z" fill="#000" stroke-width="0.7"/>
<path d="M346.42 1270.17V1284.87" stroke-width="1.2"/>
<path d="M346.42 1286.77L343.32 1282.57L346.42 1283.97L349.52 1282.57Z" fill="#000" stroke-width="0.7"/>
<path d="M949.91 1286.07H959.71L954.81 1277.47Z" stroke-width="1"/>
<circle cx="963.58" cy="1282.37" r="5" stroke-width="1"/><path d="M958.58 1282.37H968.58M963.58 1277.37V1287.37" stroke-width="1"/>
<path d="M319.75 1286.98V1301.68" stroke-width="1.2"/>
<path d="M319.75 1303.58L316.65 1299.38L319.75 1300.78L322.85 1299.38Z" fill="#000" stroke-width="0.7"/>
<path d="M475.62 1302.88H485.42L480.52 1294.28Z" stroke-width="1"/>
<circle cx="492.58" cy="1299.18" r="5" stroke-width="1"/><path d="M487.58 1299.18H497.58M492.58 1294.18V1304.18" stroke-width="1"/>
<line x1="283.57" y1="1310.99" x2="283.57" y2="1320.99" stroke="#888" stroke-width="0.8"/>
<rect x="281.77" y="1305.39" width="3.6" height="3.6" fill="#fff" stroke="#222" stroke-width="0.9"/>
<path d="M245.57 1303.79V1318.49" stroke-width="1.2"/>
<path d="M245.57 1320.39L242.47 1316.19L245.57 1317.59L248.67 1316.19Z" fill="#000" stroke-width="0.7"/>
<line x1="290.88" y1="1327.8" x2="290.88" y2="1337.8" stroke="#888" stroke-width="0.8"/>
<rect x="289.08" y="1322.2" width="3.6" height="3.6" fill="#fff" stroke="#222" stroke-width="0.9"/>
<path d="M256.17 1320.6V1335.3" stroke-width="1.2"/>
<path d="M256.17 1337.2L253.07 1333L256.17 1334.4L259.27 1333Z" fill="#000" stroke-width="0.7"/>
<line x1="329.61" y1="1323.3" x2="329.61" y2="1337.8" stroke-width="1.1"/>
<path d="M220.36 1337.41V1352.11" stroke-width="1.2"/>
<path d="M220.36 1354.01L217.26 1349.81L220.36 1351.21L223.46 1349.81Z" fill="#000" stroke-width="0.7"/>
<circle cx="253.61" cy="1349.61" r="5" stroke-width="1"/><path d="M248.61 1349.61H258.61M253.61 1344.61V1354.61" stroke-width="1"/>
<line x1="275.53" y1="1361.42" x2="275.53" y2="1371.42" stroke="#888" stroke-width="0.8"/>
<rect x="273.73" y="1355.82" width="3.6" height="3.6" fill="#fff" stroke="#222" stroke-width="0.9"/>
<path d="M244.47 1354.22V1368.92" stroke-width="1.2"/>
<path d="M244.47 1370.82L241.37 1366.62L244.47 1368.02L247.57 1366.62Z" fill="#000" stroke-width="0.7"/>
<line x1="314.27" y1="1356.92" x2="314.27" y2="1371.42" stroke-width="1.1"/>
<circle cx="338.38" cy="1366.42" r="5" stroke-width="1"/><path d="M333.38 1366.42H343.38" stroke-width="1"/>
<path d="M304.4 1371.03V1385.73" stroke-width="1.2"/>
<path d="M304.4 1387.63L301.3 1383.43L304.4 1384.83L307.5 1383.43Z" fill="#000" stroke-width="0.7"/>
<line x1="279.92" y1="1395.04" x2="279.92" y2="1405.04" stroke="#888" stroke-width="0.8"/>
<rect x="278.12" y="1389.44" width="3.6" height="3.6" fill="#fff" stroke="#222" stroke-width="0.9"/>
<path d="M245.57 1387.84V1402.54" stroke-width="1.2"/>
<path d="M245.57 1404.44L242.47 1400.24L245.57 1401.64L248.67 1400.24Z" fill="#000" stroke-width="0.7"/>
<path d="M220.36 1404.65V1419.35" stroke-width="1.2"/>
<path d="M220.36 1421.25L217.26 1417.05L220.36 1418.45L223.46 1417.05Z" fill="#000" stroke-width="0.7"/>
<path d="M606.8 1420.55H616.6L611.7 1411.95Z" stroke-width="1"/>
<circle cx="623.39" cy="1416.85" r="5" stroke-width="1"/><path d="M618.39 1416.85H628.39M623.39 1411.85V1421.85" stroke-width="1"/>
<line x1="315" y1="1428.66" x2="315" y2="1438.66" stroke="#888" stroke-width="0.8"/>
<rect x="313.2" y="1423.06" width="3.6" height="3.6" fill="#fff" stroke="#222" stroke-width="0.9"/>
<path d="M246.67 1421.46V1436.16" stroke-width="1.2"/>
<path d="M246.67 1438.06L243.57 1433.86L246.67 1435.26L249.77 1433.86Z" fill="#000" stroke-width="0.7"/>
<line x1="353.36" y1="1424.16" x2="353.36" y2="1438.66" stroke-width="1.1"/>
<path d="M1304.72 1437.36H1314.52L1309.62 1428.76Z" stroke-width="1"/>
<line x1="295.63" y1="1445.47" x2="295.63" y2="1455.47" stroke="#888" stroke-width="0.8"/>
<rect x="293.83" y="1439.87" width="3.6" height="3.6" fill="#fff" stroke="#222" stroke-width="0.9"/>
<path d="M244.47 1438.27V1452.97" stroke-width="1.2"/>
<path d="M244.47 1454.87L241.37 1450.67L244.47 1452.07L247.57 1450.67Z" fill="#000" stroke-width="0.7"/>
<line x1="334.73" y1="1440.97" x2="334.73" y2="1455.47" stroke-width="1.1"/>
</g>
<g stroke="#000" stroke-width="3">
<line x1="216.8" y1="120.5" x2="216.8" y2="1462"/>
<line x1="215.3" y1="1460.6" x2="1568" y2="1460.6"/>
<line x1="217.8" y1="1460" x2="217.8" y2="1475.5"/>
<line x1="290.88" y1="1460" x2="290.88" y2="1475.5"/>
<line x1="363.96" y1="1460" x2="363.96" y2="1475.5"/>
<line x1="437.04" y1="1460" x2="437.04" y2="1475.5"/>
<line x1="510.12" y1="1460" x2="510.12" y2="1475.5"/>
<line x1="583.2" y1="1460" x2="583.2" y2="1475.5"/>
<line x1="656.28" y1="1460" x2="656.28" y2="1475.5"/>
<line x1="729.36" y1="1460" x2="729.36" y2="1475.5"/>
<line x1="802.44" y1="1460" x2="802.44" y2="1475.5"/>
<line x1="875.52" y1="1460" x2="875.52" y2="1475.5"/>
<line x1="948.6" y1="1460" x2="948.6" y2="1475.5"/>
<line x1="1021.68" y1="1460" x2="1021.68" y2="1475.5"/>
<line x1="1094.76" y1="1460" x2="1094.76" y2="1475.5"/>
<line x1="1167.84" y1="1460" x2="1167.84" y2="1475.5"/>
<line x1="1240.92" y1="1460" x2="1240.92" y2="1475.5"/>
<line x1="1314" y1="1460" x2="1314" y2="1475.5"/>
<line x1="1387.08" y1="1460" x2="1387.08" y2="1475.5"/>
<line x1="1460.16" y1="1460" x2="1460.16" y2="1475.5"/>
<line x1="1533.24" y1="1460" x2="1533.24" y2="1475.5"/>
</g>
<g font-size="19" text-anchor="middle" font-family="'Liberation Sans', Arial, Helvetica, sans-serif">
<text x="217.8" y="1505.2">0</text>
<text x="290.88" y="1505.2">2</text>
<text x="363.96" y="1505.2">4</text>
<text x="437.04" y="1505.2">6</text>
<text x="510.12" y="1505.2">8</text>
<text x="583.2" y="1505.2">10</text>
<text x="656.28" y="1505.2">12</text>
<text x="729.36" y="1505.2">14</text>
<text x="802.44" y="1505.2">16</text>
<text x="875.52" y="1505.2">18</text>
<text x="948.6" y="1505.2">20</text>
<text x="1021.68" y="1505.2">22</text>
<text x="1094.76" y="1505.2">24</text>
<text x="1167.84" y="1505.2">26</text>
<text x="1240.92" y="1505.2">28</text>
<text x="1314" y="1505.2">30</text>
<text x="1387.08" y="1505.2">32</text>
<text x="1460.16" y="1505.2">34</text>
<text x="1533.24" y="1505.2">36</text>
<text x="800.8" y="1533.2">Date (month)</text>
</g>
<rect x="958.2" y="5.6" width="604" height="531.6" fill="#fff" stroke="#000" stroke-width="2.6"/>
<line x1="958.2" y1="341.2" x2="1562.2" y2="341.2" stroke="#000" stroke-width="3"/>
<g font-size="19" font-family="'Liberation Sans', Arial, Helvetica, sans-serif">
<text x="971.2" y="30.3" font-weight="bold">Treatment</text>
<text x="1293.5" y="29.8" font-weight="bold">Events</text>
<rect x="967.6" y="42.6" width="15" height="15" fill="#5DF0FD" stroke="#222" stroke-width="0.9"/>
<text x="987.2" y="57.4">Induction therapy</text>
<rect x="967.6" y="73.4" width="15" height="15" fill="#1B3F99" stroke="#222" stroke-width="0.9"/>
<text x="987.2" y="88.2">Consolidation therapy</text>
<rect x="967.6" y="104.8" width="15" height="15" fill="#F0F0F0" stroke="#222" stroke-width="0.9"/>
<text x="987.2" y="119.6">Radiotherapy</text>
<rect x="967.6" y="135.6" width="15" height="15" fill="#BA8AFB" stroke="#222" stroke-width="0.9"/>
<text x="987.2" y="150.4" font-size="18.3">Duration between induction</text>
<text x="987.2" y="169.6" font-size="18.3">therapy and surgery</text>
<rect x="967.6" y="186.6" width="15" height="15" fill="#531B10" stroke="#222" stroke-width="0.9"/>
<text x="987.2" y="201.4">Adjuvant ICIs</text>
<rect x="967.6" y="217.4" width="15" height="15" fill="#073D22" stroke="#222" stroke-width="0.9"/>
<text x="987.2" y="232.2">Adjuvant chemotherapy</text>
<rect x="967.6" y="248.4" width="15" height="15" fill="#B3001B" stroke="#222" stroke-width="0.9"/>
<text x="987.2" y="263.2">Adjuvant ICIs + chemotherapy</text>
<rect x="967.6" y="279.2" width="15" height="15" fill="#C0CC9A" stroke="#222" stroke-width="0.9"/>
<text x="987.2" y="294">Systematic therapy by MDT</text>
<rect x="967.6" y="309.9" width="15" height="15" fill="#A67B51" stroke="#222" stroke-width="0.9"/>
<text x="987.2" y="324.7">Follow-up</text>
<text x="1313.7" y="57.2">Disease progression</text>
<text x="1313.7" y="88.7">Death</text>
<text x="1313.7" y="119.8">Lost to follow-up</text>
<text x="1313.7" y="147.8">Last cycle of induced therapy</text>
<text x="1313.7" y="179.2">Surgery</text>
<text x="1313.7" y="207.8">Ongoing</text>
<text x="1313.7" y="239.2">Denial of ICIs maintenance</text>
</g>
<g stroke="#000" fill="none" stroke-width="1.1">
<path d="M1291.2 58.8H1307.4L1299.3 45.2Z"/>
<circle cx="1299.3" cy="82.6" r="6.9"/><path d="M1292.4 82.6H1306.2M1299.3 75.7V89.5"/>
<circle cx="1299.3" cy="113.6" r="6.9"/><path d="M1292.4 113.6H1306.2"/>
<path d="M1300.9 136.5V151M1297.4 145.5L1300.9 151.3L1304.4 145.5"/>
<line x1="1301" y1="171" x2="1301" y2="182.8" stroke="#999" stroke-width="1.2"/><rect x="1299.3" y="167.2" width="3.6" height="3.6" fill="#fff" stroke="#333" stroke-width="0.9"/>
<path d="M1295.2 203H1311.4M1307.2 200L1311.4 203L1307.2 206"/>
<line x1="1301.6" y1="223" x2="1301.6" y2="239"/>
</g>
<rect x="1563.6" y="0" width="5" height="340" fill="#fff"/>
<line x1="1562.2" y1="5.6" x2="1562.2" y2="537.2" stroke="#000" stroke-width="2.6"/>
<g font-size="19" font-family="'Liberation Sans', Arial, Helvetica, sans-serif">
<text x="1138.8" y="376.4" text-anchor="end">Sex</text>
<text x="1138.8" y="405.2" text-anchor="end">Objective response</text>
<text x="1138.8" y="435.8" text-anchor="end">Diagnostic TNM</text>
<text x="1138.8" y="463.9" text-anchor="end">Diagnostic N</text>
<text x="1138.8" y="493.8" text-anchor="end">Smoking</text>
<text x="1138.8" y="521.6" text-anchor="end">PD-L1 level</text>
</g>
<g font-size="19" font-family="'Liberation Sans', Arial, Helvetica, sans-serif">
<rect x="1165.6" y="360.8" width="14.2" height="13.8" fill="#CCEBFC" stroke="#222" stroke-width="0.9"/>
<text x="1184.2" y="376.4">Male</text>
<rect x="1272.2" y="360.8" width="14.2" height="13.8" fill="#0074BE" stroke="#222" stroke-width="0.9"/>
<text x="1289" y="376.4">Female</text>
<rect x="1165.6" y="389.6" width="14.2" height="13.8" fill="#00604A" stroke="#222" stroke-width="0.9"/>
<text x="1184.2" y="407.4">CR</text>
<rect x="1272.2" y="389.6" width="14.2" height="13.8" fill="#4BF8FB" stroke="#222" stroke-width="0.9"/>
<text x="1289" y="407.4">PR</text>
<rect x="1354.8" y="389.6" width="14.2" height="13.8" fill="#FF73B9" stroke="#222" stroke-width="0.9"/>
<text x="1373.4" y="407.4">SD</text>
<rect x="1434.5" y="389.6" width="14.2" height="13.8" fill="#DDB3FC" stroke="#222" stroke-width="0.9"/>
<text x="1449.5" y="407.4">PD</text>
<rect x="1510" y="389.6" width="14.2" height="13.8" fill="#F4FAB6" stroke="#222" stroke-width="0.9"/>
<text x="1530.3" y="407.4">NR</text>
<rect x="1165.6" y="420.2" width="14.2" height="13.8" fill="#F3F72B" stroke="#222" stroke-width="0.9"/>
<text x="1184.2" y="435.8">IIIA</text>
<rect x="1272.2" y="420.2" width="14.2" height="13.8" fill="#D0F862" stroke="#222" stroke-width="0.9"/>
<text x="1289" y="435.8">IIIB</text>
<rect x="1354.8" y="420.2" width="14.2" height="13.8" fill="#AAF9A0" stroke="#222" stroke-width="0.9"/>
<text x="1373.4" y="435.8">IIIC</text>
<rect x="1165.6" y="448.3" width="14.2" height="13.8" fill="#FFF8D6" stroke="#222" stroke-width="0.9"/>
<text x="1184.2" y="463.9">N0</text>
<rect x="1272.2" y="448.3" width="14.2" height="13.8" fill="#FFDFDB" stroke="#222" stroke-width="0.9"/>
<text x="1289" y="463.9">N1</text>
<rect x="1354.8" y="448.3" width="14.2" height="13.8" fill="#D47A6E" stroke="#222" stroke-width="0.9"/>
<text x="1373.4" y="463.9">N2</text>
<rect x="1434.5" y="448.3" width="14.2" height="13.8" fill="#A51700" stroke="#222" stroke-width="0.9"/>
<text x="1449.5" y="463.9">N3</text>
<rect x="1165.6" y="478.2" width="14.2" height="13.8" fill="#E6E6E6" stroke="#222" stroke-width="0.9"/>
<text x="1182.6" y="493.8">Ever</text>
<rect x="1269" y="478.2" width="14.2" height="13.8" fill="#3D3D3D" stroke="#222" stroke-width="0.9"/>
<text x="1286" y="493.8">Current</text>
<rect x="1354.8" y="478.2" width="14.2" height="13.8" fill="#92D050" stroke="#222" stroke-width="0.9"/>
<text x="1373.4" y="493.8">Never</text>
<rect x="1165.6" y="506" width="14.2" height="13.8" fill="#E24BA8" stroke="#222" stroke-width="0.9"/>
<text x="1184.2" y="521.6">1%-49%</text>
<rect x="1272.2" y="506" width="14.2" height="13.8" fill="#6E6EFF" stroke="#222" stroke-width="0.9"/>
<text x="1295.2" y="521.6">&lt;1%</text>
<rect x="1354.8" y="506" width="14.2" height="13.8" fill="#CCEBFC" stroke="#222" stroke-width="0.9"/>
<text x="1373.4" y="521.6">Unknow</text>
</g>
<text x="6.7" y="1621.4" font-size="38" font-weight="bold" font-family="'Liberation Sans', Arial, Helvetica, sans-serif">b</text>
<g fill="#66C600">
<rect x="208.4" y="1633.9" width="30.4" height="43.3"/>
<rect x="242.63" y="1633.9" width="30.4" height="43.3"/>
<rect x="276.86" y="1633.9" width="30.4" height="65.1"/>
<rect x="311.09" y="1633.9" width="30.4" height="130.6"/>
<rect x="345.32" y="1633.9" width="30.4" height="130.6"/>
<rect x="379.55" y="1633.9" width="30.4" height="130.6"/>
<rect x="413.78" y="1633.9" width="30.4" height="152.1"/>
<rect x="448.01" y="1633.9" width="30.4" height="173.9"/>
<rect x="482.24" y="1633.9" width="30.4" height="326.7"/>
<rect x="516.47" y="1633.9" width="30.4" height="348.1"/>
<rect x="550.7" y="1633.9" width="30.4" height="369.9"/>
<rect x="584.93" y="1633.9" width="30.4" height="369.9"/>
<rect x="619.16" y="1633.9" width="30.4" height="369.9"/>
<rect x="653.39" y="1633.9" width="30.4" height="382.6"/>
<rect x="687.62" y="1633.9" width="30.4" height="391.3"/>
<rect x="721.85" y="1633.9" width="30.4" height="391.3"/>
<rect x="756.08" y="1633.9" width="30.4" height="391.3"/>
<rect x="790.31" y="1633.9" width="30.4" height="404.4"/>
<rect x="824.54" y="1633.9" width="30.4" height="430.7"/>
<rect x="858.77" y="1633.9" width="30.4" height="430.7"/>
<rect x="893" y="1633.9" width="30.4" height="435.1"/>
<rect x="927.23" y="1633.9" width="30.4" height="435.1"/>
<rect x="961.46" y="1633.9" width="30.4" height="435.1"/>
<rect x="995.69" y="1633.9" width="30.4" height="435.1"/>
<rect x="1029.92" y="1633.9" width="30.4" height="435.1"/>
<rect x="1064.15" y="1633.9" width="30.4" height="435.1"/>
<rect x="1098.38" y="1633.9" width="30.4" height="435.1"/>
<rect x="1132.61" y="1633.9" width="30.4" height="435.1"/>
<rect x="1166.84" y="1633.9" width="30.4" height="435.1"/>
<rect x="1201.07" y="1633.9" width="30.4" height="435.1"/>
<rect x="1235.3" y="1633.9" width="30.4" height="435.1"/>
<rect x="1269.53" y="1633.9" width="30.4" height="435.1"/>
<rect x="1303.76" y="1633.9" width="30.4" height="435.1"/>
<rect x="1337.99" y="1633.9" width="30.4" height="435.1"/>
<rect x="1372.22" y="1633.9" width="30.4" height="435.1"/>
<rect x="1406.45" y="1633.9" width="30.4" height="435.1"/>
<rect x="1440.68" y="1633.9" width="30.4" height="435.1"/>
<rect x="1474.91" y="1633.9" width="30.4" height="435.1"/>
</g>
<line x1="218.5" y1="2023.4" x2="1513.4" y2="2023.4" stroke="#D42A04" stroke-width="3.3" stroke-dasharray="6.9 6.06" stroke-dashoffset="3.2"/>
<g stroke="#000" stroke-width="3.2">
<line x1="207.1" y1="1594.5" x2="207.1" y2="2076.2"/>
<line x1="686.2" y1="1594.5" x2="686.2" y2="2076"/>
<line x1="993.6" y1="1594.5" x2="993.6" y2="2076"/>
<line x1="185.8" y1="1633.9" x2="1524" y2="1633.9"/>
<line x1="185.8" y1="1854.4" x2="207" y2="1854.4"/>
<line x1="185.8" y1="2072" x2="207" y2="2072"/>
</g>
<g font-size="19" font-family="'Liberation Sans', Arial, Helvetica, sans-serif">
<text x="173.5" y="1644.6" text-anchor="end">0</text>
<text x="173.5" y="1861.2" text-anchor="end">-50</text>
<text x="174.3" y="2036.0" text-anchor="end" font-size="19.5">-90</text>
<text x="174.3" y="2080.2" text-anchor="end" font-size="19.5">-100</text>
<text transform="translate(104.4,1880.6) rotate(-90)" text-anchor="middle">Pathological Regression (%)</text>
<text x="418.7" y="1617.6" text-anchor="middle">Non-MPR</text>
<text x="1232.3" y="1617.2" text-anchor="middle">pCR</text>
<text x="1520.3" y="2029.4">MPR</text>
<text x="909.2" y="2096.2" text-anchor="middle" font-size="20">#</text>
<text x="941.2" y="2096.2" text-anchor="middle" font-size="20">#</text>
<text x="973.2" y="2096.2" text-anchor="middle" font-size="20">#</text>
</g>
<g stroke="#3a3a3a" stroke-width="1.1">
<rect x="207.6" y="2112.2" width="30" height="29.8" fill="#CCEBFC"/>
<rect x="241.85" y="2112.2" width="30" height="29.8" fill="#CCEBFC"/>
<rect x="276.1" y="2112.2" width="30" height="29.8" fill="#0074BE"/>
<rect x="310.35" y="2112.2" width="30" height="29.8" fill="#CCEBFC"/>
<rect x="344.6" y="2112.2" width="30" height="29.8" fill="#CCEBFC"/>
<rect x="378.85" y="2112.2" width="30" height="29.8" fill="#CCEBFC"/>
<rect x="413.1" y="2112.2" width="30" height="29.8" fill="#CCEBFC"/>
<rect x="447.35" y="2112.2" width="30" height="29.8" fill="#0074BE"/>
<rect x="481.6" y="2112.2" width="30" height="29.8" fill="#CCEBFC"/>
<rect x="515.85" y="2112.2" width="30" height="29.8" fill="#CCEBFC"/>
<rect x="550.1" y="2112.2" width="30" height="29.8" fill="#CCEBFC"/>
<rect x="584.35" y="2112.2" width="30" height="29.8" fill="#CCEBFC"/>
<rect x="618.6" y="2112.2" width="30" height="29.8" fill="#CCEBFC"/>
<rect x="652.85" y="2112.2" width="30" height="29.8" fill="#CCEBFC"/>
<rect x="687.1" y="2112.2" width="30" height="29.8" fill="#CCEBFC"/>
<rect x="721.35" y="2112.2" width="30" height="29.8" fill="#CCEBFC"/>
<rect x="755.6" y="2112.2" width="30" height="29.8" fill="#0074BE"/>
<rect x="789.85" y="2112.2" width="30" height="29.8" fill="#CCEBFC"/>
<rect x="824.1" y="2112.2" width="30" height="29.8" fill="#CCEBFC"/>
<rect x="858.35" y="2112.2" width="30" height="29.8" fill="#CCEBFC"/>
<rect x="892.6" y="2112.2" width="30" height="29.8" fill="#CCEBFC"/>
<rect x="926.85" y="2112.2" width="30" height="29.8" fill="#CCEBFC"/>
<rect x="961.1" y="2112.2" width="30" height="29.8" fill="#CCEBFC"/>
<rect x="995.35" y="2112.2" width="30" height="29.8" fill="#0074BE"/>
<rect x="1029.6" y="2112.2" width="30" height="29.8" fill="#CCEBFC"/>
<rect x="1063.85" y="2112.2" width="30" height="29.8" fill="#CCEBFC"/>
<rect x="1098.1" y="2112.2" width="30" height="29.8" fill="#CCEBFC"/>
<rect x="1132.35" y="2112.2" width="30" height="29.8" fill="#CCEBFC"/>
<rect x="1166.6" y="2112.2" width="30" height="29.8" fill="#CCEBFC"/>
<rect x="1200.85" y="2112.2" width="30" height="29.8" fill="#CCEBFC"/>
<rect x="1235.1" y="2112.2" width="30" height="29.8" fill="#CCEBFC"/>
<rect x="1269.35" y="2112.2" width="30" height="29.8" fill="#CCEBFC"/>
<rect x="1303.6" y="2112.2" width="30" height="29.8" fill="#CCEBFC"/>
<rect x="1337.85" y="2112.2" width="30" height="29.8" fill="#CCEBFC"/>
<rect x="1372.1" y="2112.2" width="30" height="29.8" fill="#CCEBFC"/>
<rect x="1406.35" y="2112.2" width="30" height="29.8" fill="#CCEBFC"/>
<rect x="1440.6" y="2112.2" width="30" height="29.8" fill="#CCEBFC"/>
<rect x="1474.85" y="2112.2" width="30" height="29.8" fill="#CCEBFC"/>
<rect x="207.6" y="2150.5" width="30" height="29.8" fill="#FF73B9"/>
<rect x="241.85" y="2150.5" width="30" height="29.8" fill="#FF73B9"/>
<rect x="276.1" y="2150.5" width="30" height="29.8" fill="#FF73B9"/>
<rect x="310.35" y="2150.5" width="30" height="29.8" fill="#FF73B9"/>
<rect x="344.6" y="2150.5" width="30" height="29.8" fill="#FF73B9"/>
<rect x="378.85" y="2150.5" width="30" height="29.8" fill="#4BF8FB"/>
<rect x="413.1" y="2150.5" width="30" height="29.8" fill="#FF73B9"/>
<rect x="447.35" y="2150.5" width="30" height="29.8" fill="#FF73B9"/>
<rect x="481.6" y="2150.5" width="30" height="29.8" fill="#4BF8FB"/>
<rect x="515.85" y="2150.5" width="30" height="29.8" fill="#4BF8FB"/>
<rect x="550.1" y="2150.5" width="30" height="29.8" fill="#4BF8FB"/>
<rect x="584.35" y="2150.5" width="30" height="29.8" fill="#4BF8FB"/>
<rect x="618.6" y="2150.5" width="30" height="29.8" fill="#4BF8FB"/>
<rect x="652.85" y="2150.5" width="30" height="29.8" fill="#FF73B9"/>
<rect x="687.1" y="2150.5" width="30" height="29.8" fill="#F4FAB6"/>
<rect x="721.35" y="2150.5" width="30" height="29.8" fill="#4BF8FB"/>
<rect x="755.6" y="2150.5" width="30" height="29.8" fill="#4BF8FB"/>
<rect x="789.85" y="2150.5" width="30" height="29.8" fill="#4BF8FB"/>
<rect x="824.1" y="2150.5" width="30" height="29.8" fill="#4BF8FB"/>
<rect x="858.35" y="2150.5" width="30" height="29.8" fill="#FF73B9"/>
<rect x="892.6" y="2150.5" width="30" height="29.8" fill="#4BF8FB"/>
<rect x="926.85" y="2150.5" width="30" height="29.8" fill="#4BF8FB"/>
<rect x="961.1" y="2150.5" width="30" height="29.8" fill="#4BF8FB"/>
<rect x="995.35" y="2150.5" width="30" height="29.8" fill="#4BF8FB"/>
<rect x="1029.6" y="2150.5" width="30" height="29.8" fill="#4BF8FB"/>
<rect x="1063.85" y="2150.5" width="30" height="29.8" fill="#FF73B9"/>
<rect x="1098.1" y="2150.5" width="30" height="29.8" fill="#4BF8FB"/>
<rect x="1132.35" y="2150.5" width="30" height="29.8" fill="#4BF8FB"/>
<rect x="1166.6" y="2150.5" width="30" height="29.8" fill="#4BF8FB"/>
<rect x="1200.85" y="2150.5" width="30" height="29.8" fill="#4BF8FB"/>
<rect x="1235.1" y="2150.5" width="30" height="29.8" fill="#4BF8FB"/>
<rect x="1269.35" y="2150.5" width="30" height="29.8" fill="#4BF8FB"/>
<rect x="1303.6" y="2150.5" width="30" height="29.8" fill="#FF73B9"/>
<rect x="1337.85" y="2150.5" width="30" height="29.8" fill="#4BF8FB"/>
<rect x="1372.1" y="2150.5" width="30" height="29.8" fill="#4BF8FB"/>
<rect x="1406.35" y="2150.5" width="30" height="29.8" fill="#4BF8FB"/>
<rect x="1440.6" y="2150.5" width="30" height="29.8" fill="#4BF8FB"/>
<rect x="1474.85" y="2150.5" width="30" height="29.8" fill="#4BF8FB"/>
<rect x="207.6" y="2187.8" width="30" height="29.8" fill="#F3F72B"/>
<rect x="241.85" y="2187.8" width="30" height="29.8" fill="#D0F862"/>
<rect x="276.1" y="2187.8" width="30" height="29.8" fill="#F3F72B"/>
<rect x="310.35" y="2187.8" width="30" height="29.8" fill="#F3F72B"/>
<rect x="344.6" y="2187.8" width="30" height="29.8" fill="#F3F72B"/>
<rect x="378.85" y="2187.8" width="30" height="29.8" fill="#D0F862"/>
<rect x="413.1" y="2187.8" width="30" height="29.8" fill="#F3F72B"/>
<rect x="447.35" y="2187.8" width="30" height="29.8" fill="#AAF9A0"/>
<rect x="481.6" y="2187.8" width="30" height="29.8" fill="#AAF9A0"/>
<rect x="515.85" y="2187.8" width="30" height="29.8" fill="#D0F862"/>
<rect x="550.1" y="2187.8" width="30" height="29.8" fill="#AAF9A0"/>
<rect x="584.35" y="2187.8" width="30" height="29.8" fill="#D0F862"/>
<rect x="618.6" y="2187.8" width="30" height="29.8" fill="#F3F72B"/>
<rect x="652.85" y="2187.8" width="30" height="29.8" fill="#D0F862"/>
<rect x="687.1" y="2187.8" width="30" height="29.8" fill="#F3F72B"/>
<rect x="721.35" y="2187.8" width="30" height="29.8" fill="#D0F862"/>
<rect x="755.6" y="2187.8" width="30" height="29.8" fill="#D0F862"/>
<rect x="789.85" y="2187.8" width="30" height="29.8" fill="#D0F862"/>
<rect x="824.1" y="2187.8" width="30" height="29.8" fill="#F3F72B"/>
<rect x="858.35" y="2187.8" width="30" height="29.8" fill="#AAF9A0"/>
<rect x="892.6" y="2187.8" width="30" height="29.8" fill="#D0F862"/>
<rect x="926.85" y="2187.8" width="30" height="29.8" fill="#F3F72B"/>
<rect x="961.1" y="2187.8" width="30" height="29.8" fill="#D0F862"/>
<rect x="995.35" y="2187.8" width="30" height="29.8" fill="#F3F72B"/>
<rect x="1029.6" y="2187.8" width="30" height="29.8" fill="#F3F72B"/>
<rect x="1063.85" y="2187.8" width="30" height="29.8" fill="#F3F72B"/>
<rect x="1098.1" y="2187.8" width="30" height="29.8" fill="#D0F862"/>
<rect x="1132.35" y="2187.8" width="30" height="29.8" fill="#D0F862"/>
<rect x="1166.6" y="2187.8" width="30" height="29.8" fill="#D0F862"/>
<rect x="1200.85" y="2187.8" width="30" height="29.8" fill="#F3F72B"/>
<rect x="1235.1" y="2187.8" width="30" height="29.8" fill="#F3F72B"/>
<rect x="1269.35" y="2187.8" width="30" height="29.8" fill="#F3F72B"/>
<rect x="1303.6" y="2187.8" width="30" height="29.8" fill="#F3F72B"/>
<rect x="1337.85" y="2187.8" width="30" height="29.8" fill="#F3F72B"/>
<rect x="1372.1" y="2187.8" width="30" height="29.8" fill="#F3F72B"/>
<rect x="1406.35" y="2187.8" width="30" height="29.8" fill="#F3F72B"/>
<rect x="1440.6" y="2187.8" width="30" height="29.8" fill="#F3F72B"/>
<rect x="1474.85" y="2187.8" width="30" height="29.8" fill="#D0F862"/>
<rect x="207.6" y="2226.3" width="30" height="29.8" fill="#D47A6E"/>
<rect x="241.85" y="2226.3" width="30" height="29.8" fill="#D47A6E"/>
<rect x="276.1" y="2226.3" width="30" height="29.8" fill="#D47A6E"/>
<rect x="310.35" y="2226.3" width="30" height="29.8" fill="#D47A6E"/>
<rect x="344.6" y="2226.3" width="30" height="29.8" fill="#D47A6E"/>
<rect x="378.85" y="2226.3" width="30" height="29.8" fill="#D47A6E"/>
<rect x="413.1" y="2226.3" width="30" height="29.8" fill="#D47A6E"/>
<rect x="447.35" y="2226.3" width="30" height="29.8" fill="#A51700"/>
<rect x="481.6" y="2226.3" width="30" height="29.8" fill="#A51700"/>
<rect x="515.85" y="2226.3" width="30" height="29.8" fill="#D47A6E"/>
<rect x="550.1" y="2226.3" width="30" height="29.8" fill="#A51700"/>
<rect x="584.35" y="2226.3" width="30" height="29.8" fill="#D47A6E"/>
<rect x="618.6" y="2226.3" width="30" height="29.8" fill="#FFDFDB"/>
<rect x="652.85" y="2226.3" width="30" height="29.8" fill="#D47A6E"/>
<rect x="687.1" y="2226.3" width="30" height="29.8" fill="#FFDFDB"/>
<rect x="721.35" y="2226.3" width="30" height="29.8" fill="#D47A6E"/>
<rect x="755.6" y="2226.3" width="30" height="29.8" fill="#D47A6E"/>
<rect x="789.85" y="2226.3" width="30" height="29.8" fill="#D47A6E"/>
<rect x="824.1" y="2226.3" width="30" height="29.8" fill="#FFDFDB"/>
<rect x="858.35" y="2226.3" width="30" height="29.8" fill="#A51700"/>
<rect x="892.6" y="2226.3" width="30" height="29.8" fill="#D47A6E"/>
<rect x="926.85" y="2226.3" width="30" height="29.8" fill="#D47A6E"/>
<rect x="961.1" y="2226.3" width="30" height="29.8" fill="#A51700"/>
<rect x="995.35" y="2226.3" width="30" height="29.8" fill="#D47A6E"/>
<rect x="1029.6" y="2226.3" width="30" height="29.8" fill="#D47A6E"/>
<rect x="1063.85" y="2226.3" width="30" height="29.8" fill="#D47A6E"/>
<rect x="1098.1" y="2226.3" width="30" height="29.8" fill="#D47A6E"/>
<rect x="1132.35" y="2226.3" width="30" height="29.8" fill="#D47A6E"/>
<rect x="1166.6" y="2226.3" width="30" height="29.8" fill="#D47A6E"/>
<rect x="1200.85" y="2226.3" width="30" height="29.8" fill="#D47A6E"/>
<rect x="1235.1" y="2226.3" width="30" height="29.8" fill="#D47A6E"/>
<rect x="1269.35" y="2226.3" width="30" height="29.8" fill="#D47A6E"/>
<rect x="1303.6" y="2226.3" width="30" height="29.8" fill="#D47A6E"/>
<rect x="1337.85" y="2226.3" width="30" height="29.8" fill="#D47A6E"/>
<rect x="1372.1" y="2226.3" width="30" height="29.8" fill="#D47A6E"/>
<rect x="1406.35" y="2226.3" width="30" height="29.8" fill="#D47A6E"/>
<rect x="1440.6" y="2226.3" width="30" height="29.8" fill="#D47A6E"/>
<rect x="1474.85" y="2226.3" width="30" height="29.8" fill="#D47A6E"/>
<rect x="207.6" y="2262.6" width="30" height="29.8" fill="#18E5D0"/>
<rect x="241.85" y="2262.6" width="30" height="29.8" fill="#2F6E17"/>
<rect x="276.1" y="2262.6" width="30" height="29.8" fill="#18E5D0"/>
<rect x="310.35" y="2262.6" width="30" height="29.8" fill="#18E5D0"/>
<rect x="344.6" y="2262.6" width="30" height="29.8" fill="#18E5D0"/>
<rect x="378.85" y="2262.6" width="30" height="29.8" fill="#18E5D0"/>
<rect x="413.1" y="2262.6" width="30" height="29.8" fill="#2F6E17"/>
<rect x="447.35" y="2262.6" width="30" height="29.8" fill="#2F6E17"/>
<rect x="481.6" y="2262.6" width="30" height="29.8" fill="#2F6E17"/>
<rect x="515.85" y="2262.6" width="30" height="29.8" fill="#2F6E17"/>
<rect x="550.1" y="2262.6" width="30" height="29.8" fill="#2F6E17"/>
<rect x="584.35" y="2262.6" width="30" height="29.8" fill="#18E5D0"/>
<rect x="618.6" y="2262.6" width="30" height="29.8" fill="#18E5D0"/>
<rect x="652.85" y="2262.6" width="30" height="29.8" fill="#18E5D0"/>
<rect x="687.1" y="2262.6" width="30" height="29.8" fill="#2F6E17"/>
<rect x="721.35" y="2262.6" width="30" height="29.8" fill="#2F6E17"/>
<rect x="755.6" y="2262.6" width="30" height="29.8" fill="#2F6E17"/>
<rect x="789.85" y="2262.6" width="30" height="29.8" fill="#18E5D0"/>
<rect x="824.1" y="2262.6" width="30" height="29.8" fill="#18E5D0"/>
<rect x="858.35" y="2262.6" width="30" height="29.8" fill="#2F6E17"/>
<rect x="892.6" y="2262.6" width="30" height="29.8" fill="#18E5D0"/>
<rect x="926.85" y="2262.6" width="30" height="29.8" fill="#2F6E17"/>
<rect x="961.1" y="2262.6" width="30" height="29.8" fill="#18E5D0"/>
<rect x="995.35" y="2262.6" width="30" height="29.8" fill="#18E5D0"/>
<rect x="1029.6" y="2262.6" width="30" height="29.8" fill="#18E5D0"/>
<rect x="1063.85" y="2262.6" width="30" height="29.8" fill="#18E5D0"/>
<rect x="1098.1" y="2262.6" width="30" height="29.8" fill="#2F6E17"/>
<rect x="1132.35" y="2262.6" width="30" height="29.8" fill="#18E5D0"/>
<rect x="1166.6" y="2262.6" width="30" height="29.8" fill="#18E5D0"/>
<rect x="1200.85" y="2262.6" width="30" height="29.8" fill="#18E5D0"/>
<rect x="1235.1" y="2262.6" width="30" height="29.8" fill="#18E5D0"/>
<rect x="1269.35" y="2262.6" width="30" height="29.8" fill="#18E5D0"/>
<rect x="1303.6" y="2262.6" width="30" height="29.8" fill="#2F6E17"/>
<rect x="1337.85" y="2262.6" width="30" height="29.8" fill="#18E5D0"/>
<rect x="1372.1" y="2262.6" width="30" height="29.8" fill="#18E5D0"/>
<rect x="1406.35" y="2262.6" width="30" height="29.8" fill="#18E5D0"/>
<rect x="1440.6" y="2262.6" width="30" height="29.8" fill="#18E5D0"/>
<rect x="1474.85" y="2262.6" width="30" height="29.8" fill="#18E5D0"/>
<rect x="207.6" y="2297.8" width="30" height="29.8" fill="#FDEB9C"/>
<rect x="241.85" y="2297.8" width="30" height="29.8" fill="#FD7128"/>
<rect x="276.1" y="2297.8" width="30" height="29.8" fill="#FDEB9C"/>
<rect x="310.35" y="2297.8" width="30" height="29.8" fill="#FD7128"/>
<rect x="344.6" y="2297.8" width="30" height="29.8" fill="#FDEB9C"/>
<rect x="378.85" y="2297.8" width="30" height="29.8" fill="#FDEB9C"/>
<rect x="413.1" y="2297.8" width="30" height="29.8" fill="#FDEB9C"/>
<rect x="447.35" y="2297.8" width="30" height="29.8" fill="#FDEB9C"/>
<rect x="481.6" y="2297.8" width="30" height="29.8" fill="#FD7128"/>
<rect x="515.85" y="2297.8" width="30" height="29.8" fill="#FD7128"/>
<rect x="550.1" y="2297.8" width="30" height="29.8" fill="#FD7128"/>
<rect x="584.35" y="2297.8" width="30" height="29.8" fill="#FDEB9C"/>
<rect x="618.6" y="2297.8" width="30" height="29.8" fill="#FD7128"/>
<rect x="652.85" y="2297.8" width="30" height="29.8" fill="#FD7128"/>
<rect x="687.1" y="2297.8" width="30" height="29.8" fill="#FDEB9C"/>
<rect x="721.35" y="2297.8" width="30" height="29.8" fill="#FD7128"/>
<rect x="755.6" y="2297.8" width="30" height="29.8" fill="#FDEB9C"/>
<rect x="789.85" y="2297.8" width="30" height="29.8" fill="#FD7128"/>
<rect x="824.1" y="2297.8" width="30" height="29.8" fill="#FDEB9C"/>
<rect x="858.35" y="2297.8" width="30" height="29.8" fill="#FD7128"/>
<rect x="892.6" y="2297.8" width="30" height="29.8" fill="#FDEB9C"/>
<rect x="926.85" y="2297.8" width="30" height="29.8" fill="#FD7128"/>
<rect x="961.1" y="2297.8" width="30" height="29.8" fill="#FDEB9C"/>
<rect x="995.35" y="2297.8" width="30" height="29.8" fill="#FDEB9C"/>
<rect x="1029.6" y="2297.8" width="30" height="29.8" fill="#FD7128"/>
<rect x="1063.85" y="2297.8" width="30" height="29.8" fill="#FDEB9C"/>
<rect x="1098.1" y="2297.8" width="30" height="29.8" fill="#FDEB9C"/>
<rect x="1132.35" y="2297.8" width="30" height="29.8" fill="#FD7128"/>
<rect x="1166.6" y="2297.8" width="30" height="29.8" fill="#FDEB9C"/>
<rect x="1200.85" y="2297.8" width="30" height="29.8" fill="#FD7128"/>
<rect x="1235.1" y="2297.8" width="30" height="29.8" fill="#FDEB9C"/>
<rect x="1269.35" y="2297.8" width="30" height="29.8" fill="#FDEB9C"/>
<rect x="1303.6" y="2297.8" width="30" height="29.8" fill="#FD7128"/>
<rect x="1337.85" y="2297.8" width="30" height="29.8" fill="#FDEB9C"/>
<rect x="1372.1" y="2297.8" width="30" height="29.8" fill="#FD7128"/>
<rect x="1406.35" y="2297.8" width="30" height="29.8" fill="#FD7128"/>
<rect x="1440.6" y="2297.8" width="30" height="29.8" fill="#FD7128"/>
<rect x="1474.85" y="2297.8" width="30" height="29.8" fill="#FDEB9C"/>
<rect x="207.6" y="2336.5" width="30" height="29.8" fill="#3D3D3D"/>
<rect x="241.85" y="2336.5" width="30" height="29.8" fill="#92D050"/>
<rect x="276.1" y="2336.5" width="30" height="29.8" fill="#92D050"/>
<rect x="310.35" y="2336.5" width="30" height="29.8" fill="#3D3D3D"/>
<rect x="344.6" y="2336.5" width="30" height="29.8" fill="#3D3D3D"/>
<rect x="378.85" y="2336.5" width="30" height="29.8" fill="#3D3D3D"/>
<rect x="413.1" y="2336.5" width="30" height="29.8" fill="#3D3D3D"/>
<rect x="447.35" y="2336.5" width="30" height="29.8" fill="#3D3D3D"/>
<rect x="481.6" y="2336.5" width="30" height="29.8" fill="#3D3D3D"/>
<rect x="515.85" y="2336.5" width="30" height="29.8" fill="#3D3D3D"/>
<rect x="550.1" y="2336.5" width="30" height="29.8" fill="#3D3D3D"/>
<rect x="584.35" y="2336.5" width="30" height="29.8" fill="#3D3D3D"/>
<rect x="618.6" y="2336.5" width="30" height="29.8" fill="#3D3D3D"/>
<rect x="652.85" y="2336.5" width="30" height="29.8" fill="#E6E6E6"/>
<rect x="687.1" y="2336.5" width="30" height="29.8" fill="#E6E6E6"/>
<rect x="721.35" y="2336.5" width="30" height="29.8" fill="#3D3D3D"/>
<rect x="755.6" y="2336.5" width="30" height="29.8" fill="#92D050"/>
<rect x="789.85" y="2336.5" width="30" height="29.8" fill="#3D3D3D"/>
<rect x="824.1" y="2336.5" width="30" height="29.8" fill="#92D050"/>
<rect x="858.35" y="2336.5" width="30" height="29.8" fill="#3D3D3D"/>
<rect x="892.6" y="2336.5" width="30" height="29.8" fill="#3D3D3D"/>
<rect x="926.85" y="2336.5" width="30" height="29.8" fill="#3D3D3D"/>
<rect x="961.1" y="2336.5" width="30" height="29.8" fill="#E6E6E6"/>
<rect x="995.35" y="2336.5" width="30" height="29.8" fill="#E6E6E6"/>
<rect x="1029.6" y="2336.5" width="30" height="29.8" fill="#E6E6E6"/>
<rect x="1063.85" y="2336.5" width="30" height="29.8" fill="#3D3D3D"/>
<rect x="1098.1" y="2336.5" width="30" height="29.8" fill="#3D3D3D"/>
<rect x="1132.35" y="2336.5" width="30" height="29.8" fill="#3D3D3D"/>
<rect x="1166.6" y="2336.5" width="30" height="29.8" fill="#3D3D3D"/>
<rect x="1200.85" y="2336.5" width="30" height="29.8" fill="#E6E6E6"/>
<rect x="1235.1" y="2336.5" width="30" height="29.8" fill="#3D3D3D"/>
<rect x="1269.35" y="2336.5" width="30" height="29.8" fill="#E6E6E6"/>
<rect x="1303.6" y="2336.5" width="30" height="29.8" fill="#3D3D3D"/>
<rect x="1337.85" y="2336.5" width="30" height="29.8" fill="#E6E6E6"/>
<rect x="1372.1" y="2336.5" width="30" height="29.8" fill="#3D3D3D"/>
<rect x="1406.35" y="2336.5" width="30" height="29.8" fill="#3D3D3D"/>
<rect x="1440.6" y="2336.5" width="30" height="29.8" fill="#3D3D3D"/>
<rect x="1474.85" y="2336.5" width="30" height="29.8" fill="#3D3D3D"/>
<rect x="207.6" y="2372.8" width="30" height="29.8" fill="#CCEBFC"/>
<rect x="241.85" y="2372.8" width="30" height="29.8" fill="#6E6EFF"/>
<rect x="276.1" y="2372.8" width="30" height="29.8" fill="#CCEBFC"/>
<rect x="310.35" y="2372.8" width="30" height="29.8" fill="#6E6EFF"/>
<rect x="344.6" y="2372.8" width="30" height="29.8" fill="#6E6EFF"/>
<rect x="378.85" y="2372.8" width="30" height="29.8" fill="#CCEBFC"/>
<rect x="413.1" y="2372.8" width="30" height="29.8" fill="#6E6EFF"/>
<rect x="447.35" y="2372.8" width="30" height="29.8" fill="#6E6EFF"/>
<rect x="481.6" y="2372.8" width="30" height="29.8" fill="#E24BA8"/>
<rect x="515.85" y="2372.8" width="30" height="29.8" fill="#E24BA8"/>
<rect x="550.1" y="2372.8" width="30" height="29.8" fill="#E24BA8"/>
<rect x="584.35" y="2372.8" width="30" height="29.8" fill="#CCEBFC"/>
<rect x="618.6" y="2372.8" width="30" height="29.8" fill="#E24BA8"/>
<rect x="652.85" y="2372.8" width="30" height="29.8" fill="#E24BA8"/>
<rect x="687.1" y="2372.8" width="30" height="29.8" fill="#CCEBFC"/>
<rect x="721.35" y="2372.8" width="30" height="29.8" fill="#E24BA8"/>
<rect x="755.6" y="2372.8" width="30" height="29.8" fill="#6E6EFF"/>
<rect x="789.85" y="2372.8" width="30" height="29.8" fill="#6E6EFF"/>
<rect x="824.1" y="2372.8" width="30" height="29.8" fill="#CCEBFC"/>
<rect x="858.35" y="2372.8" width="30" height="29.8" fill="#6E6EFF"/>
<rect x="892.6" y="2372.8" width="30" height="29.8" fill="#CCEBFC"/>
<rect x="926.85" y="2372.8" width="30" height="29.8" fill="#CCEBFC"/>
<rect x="961.1" y="2372.8" width="30" height="29.8" fill="#CCEBFC"/>
<rect x="995.35" y="2372.8" width="30" height="29.8" fill="#CCEBFC"/>
<rect x="1029.6" y="2372.8" width="30" height="29.8" fill="#CCEBFC"/>
<rect x="1063.85" y="2372.8" width="30" height="29.8" fill="#CCEBFC"/>
<rect x="1098.1" y="2372.8" width="30" height="29.8" fill="#CCEBFC"/>
<rect x="1132.35" y="2372.8" width="30" height="29.8" fill="#6E6EFF"/>
<rect x="1166.6" y="2372.8" width="30" height="29.8" fill="#CCEBFC"/>
<rect x="1200.85" y="2372.8" width="30" height="29.8" fill="#CCEBFC"/>
<rect x="1235.1" y="2372.8" width="30" height="29.8" fill="#CCEBFC"/>
<rect x="1269.35" y="2372.8" width="30" height="29.8" fill="#CCEBFC"/>
<rect x="1303.6" y="2372.8" width="30" height="29.8" fill="#6E6EFF"/>
<rect x="1337.85" y="2372.8" width="30" height="29.8" fill="#6E6EFF"/>
<rect x="1372.1" y="2372.8" width="30" height="29.8" fill="#6E6EFF"/>
<rect x="1406.35" y="2372.8" width="30" height="29.8" fill="#CCEBFC"/>
<rect x="1440.6" y="2372.8" width="30" height="29.8" fill="#6E6EFF"/>
<rect x="1474.85" y="2372.8" width="30" height="29.8" fill="#CCEBFC"/>
</g>
<g font-size="19" text-anchor="end" font-family="'Liberation Sans', Arial, Helvetica, sans-serif">
<text x="179.2" y="2136.8">Sex</text>
<text x="179.2" y="2172.5">Objective response</text>
<text x="186.1" y="2213.9">Diagnostic TNM</text>
<text x="186.1" y="2251.7">Diagnostic N</text>
<text x="184.7" y="2286.4">Surgical approach</text>
<text x="186.8" y="2322.9">Histology</text>
<text x="186.8" y="2360.4">Smoking</text>
<text x="180.6" y="2397.5">PD-L1 level</text>
</g>
<rect x="2" y="2439.6" width="1562" height="98.8" fill="none" stroke="#000" stroke-width="3"/>
<g font-size="22.2" font-family="'Liberation Sans', Arial, Helvetica, sans-serif">
<text x="223.6" y="2467.6" text-anchor="end">Sex</text>
<rect x="239.6" y="2451.4" width="10" height="18.4" fill="#CCEBFC" stroke="#333" stroke-width="0.9"/>
<text x="256" y="2467.6">Male</text>
<rect x="315.4" y="2451.4" width="10" height="18.4" fill="#0074BE" stroke="#333" stroke-width="0.9"/>
<text x="330.7" y="2467.6">Female</text>
<text x="223.6" y="2496.8" text-anchor="end">Objective response</text>
<rect x="239.6" y="2480.6" width="10" height="18.4" fill="#FF73B9" stroke="#333" stroke-width="0.9"/>
<text x="256" y="2496.8">SD</text>
<rect x="315.4" y="2480.6" width="10" height="18.4" fill="#4BF8FB" stroke="#333" stroke-width="0.9"/>
<text x="330.7" y="2496.8">PR</text>
<rect x="376.6" y="2480.6" width="10" height="18.4" fill="#F4FAB6" stroke="#333" stroke-width="0.9"/>
<text x="396.5" y="2496.8">NR</text>
<text x="223.6" y="2521.9" text-anchor="end">Diagnostic TNM</text>
<rect x="239.6" y="2505.7" width="10" height="18.4" fill="#F3F72B" stroke="#333" stroke-width="0.9"/>
<text x="256" y="2521.9">IIIA</text>
<rect x="315.4" y="2505.7" width="10" height="18.4" fill="#D0F862" stroke="#333" stroke-width="0.9"/>
<text x="330.7" y="2521.9">IIIB</text>
<rect x="376.6" y="2505.7" width="10" height="18.4" fill="#AAF9A0" stroke="#333" stroke-width="0.9"/>
<text x="396.5" y="2521.9">IIIC</text>
<text x="740" y="2468.2" text-anchor="end">Diagnostic N</text>
<rect x="761.4" y="2452" width="10" height="18.4" fill="#FFDFDB" stroke="#333" stroke-width="0.9"/>
<text x="775.7" y="2468.2">N1</text>
<rect x="846.7" y="2452" width="10" height="18.4" fill="#D47A6E" stroke="#333" stroke-width="0.9"/>
<text x="861.8" y="2468.2">N2</text>
<rect x="932.8" y="2452" width="10" height="18.4" fill="#A51700" stroke="#333" stroke-width="0.9"/>
<text x="947.9" y="2468.2">N3</text>
<text x="740" y="2497.0" text-anchor="end">Surgical approach</text>
<rect x="761.4" y="2480.8" width="10" height="18.4" fill="#18E5D0" stroke="#333" stroke-width="0.9"/>
<text x="775.7" y="2497">VATS</text>
<rect x="846.7" y="2480.8" width="10" height="18.4" fill="#2F6E17" stroke="#333" stroke-width="0.9"/>
<text x="861.8" y="2497">Thoractomy</text>
<text x="740" y="2521.7" text-anchor="end">Histology</text>
<rect x="761.4" y="2505.5" width="10" height="18.4" fill="#FD7128" stroke="#333" stroke-width="0.9"/>
<text x="775.7" y="2521.7">LUSC</text>
<rect x="846.7" y="2505.5" width="10" height="18.4" fill="#FDEB9C" stroke="#333" stroke-width="0.9"/>
<text x="858.9" y="2521.7">Non-LUSC</text>
<text x="1225.4" y="2468.0" text-anchor="end">Smoking</text>
<rect x="1246.2" y="2451.8" width="10" height="18.4" fill="#E6E6E6" stroke="#333" stroke-width="0.9"/>
<text x="1266" y="2468.6" font-size="19">Ever</text>
<rect x="1351.3" y="2451.8" width="10" height="18.4" fill="#3D3D3D" stroke="#333" stroke-width="0.9"/>
<text x="1368" y="2468.6" font-size="19">Current</text>
<rect x="1449.8" y="2451.8" width="10" height="18.4" fill="#92D050" stroke="#333" stroke-width="0.9"/>
<text x="1461.3" y="2468.6" font-size="19">Never</text>
<text x="1225.4" y="2497.0" text-anchor="end">PD-L1 level</text>
<rect x="1246.2" y="2480.8" width="10" height="18.4" fill="#E24BA8" stroke="#333" stroke-width="0.9"/>
<text x="1258.5" y="2497">1%-49%</text>
<rect x="1351.3" y="2480.8" width="10" height="18.4" fill="#6E6EFF" stroke="#333" stroke-width="0.9"/>
<text x="1368" y="2497">&lt;1%</text>
<rect x="1449.8" y="2480.8" width="10" height="18.4" fill="#CCEBFC" stroke="#333" stroke-width="0.9"/>
<text x="1461.3" y="2497">Unknow</text>
</g>
</svg>
</body></html>
